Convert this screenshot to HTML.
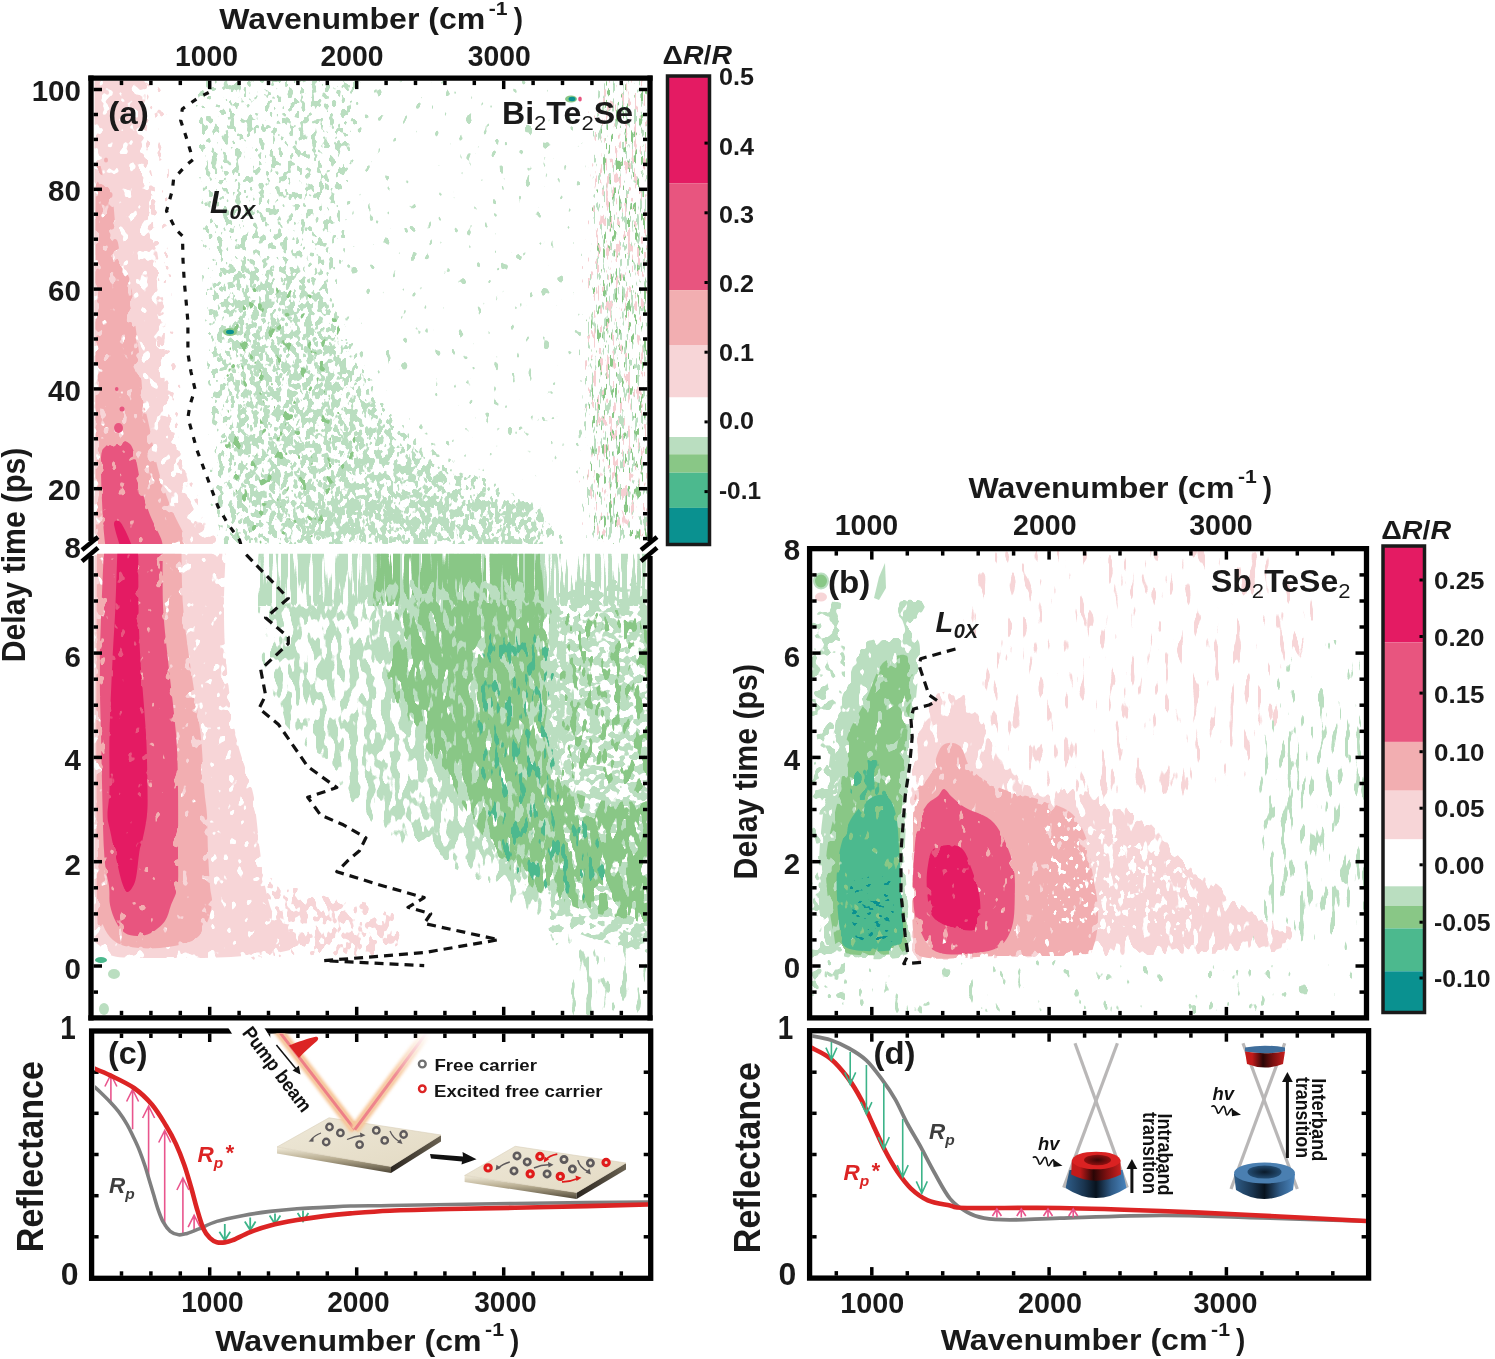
<!DOCTYPE html><html><head><meta charset="utf-8"><style>html,body{margin:0;padding:0;background:#fff;overflow:hidden;}svg{display:block;will-change:transform;filter:blur(0.4px);}text{font-family:"Liberation Sans", sans-serif;}</style></head><body>
<svg width="1495" height="1359" viewBox="0 0 1495 1359">
<rect width="100%" height="100%" fill="#fff"/>
<defs><filter id="rf1" filterUnits="userSpaceOnUse" x="304" y="44" width="312" height="462" color-interpolation-filters="sRGB"><feGaussianBlur in="SourceAlpha" stdDeviation="8" result="b"/><feTurbulence type="fractalNoise" baseFrequency="0.12 0.08" numOctaves="2" seed="11" result="n"/><feColorMatrix in="n" type="matrix" values="0 0 0 0 0 0 0 0 0 0 0 0 0 0 0 1 0 0 0 0" result="na"/><feComposite in="b" in2="na" operator="arithmetic" k1="0" k2="0.2" k3="1" k4="-0.2" result="s"/><feComponentTransfer in="s" result="mk"><feFuncA type="linear" slope="25" intercept="-18.075"/></feComponentTransfer><feFlood flood-color="#BADEC0" result="c"/><feComposite in="c" in2="mk" operator="in" result="cm"/><feComposite in="cm" in2="SourceAlpha" operator="in"/></filter><filter id="rf2" filterUnits="userSpaceOnUse" x="174" y="50" width="416" height="520" color-interpolation-filters="sRGB"><feGaussianBlur in="SourceAlpha" stdDeviation="6" result="b"/><feTurbulence type="fractalNoise" baseFrequency="0.17 0.12" numOctaves="2" seed="3" result="n"/><feColorMatrix in="n" type="matrix" values="0 0 0 0 0 0 0 0 0 0 0 0 0 0 0 1 0 0 0 0" result="na"/><feComposite in="b" in2="na" operator="arithmetic" k1="0" k2="0.35" k3="1" k4="-0.35" result="s"/><feComponentTransfer in="s" result="mk"><feFuncA type="linear" slope="25" intercept="-14.216"/></feComponentTransfer><feFlood flood-color="#BADEC0" result="c"/><feComposite in="c" in2="mk" operator="in" result="cm"/><feComposite in="cm" in2="SourceAlpha" operator="in"/></filter><filter id="rf3" filterUnits="userSpaceOnUse" x="168" y="218" width="446" height="376" color-interpolation-filters="sRGB"><feGaussianBlur in="SourceAlpha" stdDeviation="14" result="b"/><feTurbulence type="fractalNoise" baseFrequency="0.16 0.11" numOctaves="2" seed="5" result="n"/><feColorMatrix in="n" type="matrix" values="0 0 0 0 0 0 0 0 0 0 0 0 0 0 0 1 0 0 0 0" result="na"/><feComposite in="b" in2="na" operator="arithmetic" k1="0" k2="0.5" k3="1" k4="-0.5" result="s"/><feComponentTransfer in="s" result="mk"><feFuncA type="linear" slope="25" intercept="-12.936"/></feComponentTransfer><feFlood flood-color="#BADEC0" result="c"/><feComposite in="c" in2="mk" operator="in" result="cm"/><feComposite in="cm" in2="SourceAlpha" operator="in"/></filter><filter id="rf4" filterUnits="userSpaceOnUse" x="205" y="280" width="175" height="290" color-interpolation-filters="sRGB"><feGaussianBlur in="SourceAlpha" stdDeviation="6" result="b"/><feTurbulence type="fractalNoise" baseFrequency="0.12 0.08" numOctaves="2" seed="7" result="n"/><feColorMatrix in="n" type="matrix" values="0 0 0 0 0 0 0 0 0 0 0 0 0 0 0 1 0 0 0 0" result="na"/><feComposite in="b" in2="na" operator="arithmetic" k1="0" k2="0.3" k3="1" k4="-0.3" result="s"/><feComponentTransfer in="s" result="mk"><feFuncA type="linear" slope="25" intercept="-16.759"/></feComponentTransfer><feFlood flood-color="#89C786" result="c"/><feComposite in="c" in2="mk" operator="in" result="cm"/><feComposite in="cm" in2="SourceAlpha" operator="in"/></filter><filter id="rf5" filterUnits="userSpaceOnUse" x="280" y="470" width="300" height="100" color-interpolation-filters="sRGB"><feGaussianBlur in="SourceAlpha" stdDeviation="6" result="b"/><feTurbulence type="fractalNoise" baseFrequency="0.16 0.08" numOctaves="2" seed="8" result="n"/><feColorMatrix in="n" type="matrix" values="0 0 0 0 0 0 0 0 0 0 0 0 0 0 0 1 0 0 0 0" result="na"/><feComposite in="b" in2="na" operator="arithmetic" k1="0" k2="0.3" k3="1" k4="-0.3" result="s"/><feComponentTransfer in="s" result="mk"><feFuncA type="linear" slope="25" intercept="-13.154"/></feComponentTransfer><feFlood flood-color="#BADEC0" result="c"/><feComposite in="c" in2="mk" operator="in" result="cm"/><feComposite in="cm" in2="SourceAlpha" operator="in"/></filter><filter id="rf6" filterUnits="userSpaceOnUse" x="542" y="38" width="170" height="544" color-interpolation-filters="sRGB"><feGaussianBlur in="SourceAlpha" stdDeviation="10" result="b"/><feTurbulence type="fractalNoise" baseFrequency="0.32 0.07" numOctaves="2" seed="12" result="n"/><feColorMatrix in="n" type="matrix" values="0 0 0 0 0 0 0 0 0 0 0 0 0 0 0 1 0 0 0 0" result="na"/><feComposite in="b" in2="na" operator="arithmetic" k1="0" k2="0.5" k3="1" k4="-0.5" result="s"/><feComponentTransfer in="s" result="mk"><feFuncA type="linear" slope="25" intercept="-15.101"/></feComponentTransfer><feFlood flood-color="#BADEC0" result="c"/><feComposite in="c" in2="mk" operator="in" result="cm"/><feComposite in="cm" in2="SourceAlpha" operator="in"/></filter><filter id="rf7" filterUnits="userSpaceOnUse" x="548" y="38" width="164" height="544" color-interpolation-filters="sRGB"><feGaussianBlur in="SourceAlpha" stdDeviation="10" result="b"/><feTurbulence type="fractalNoise" baseFrequency="0.32 0.07" numOctaves="2" seed="13" result="n"/><feColorMatrix in="n" type="matrix" values="0 0 0 0 0 0 0 0 0 0 0 0 0 0 0 1 0 0 0 0" result="na"/><feComposite in="b" in2="na" operator="arithmetic" k1="0" k2="0.5" k3="1" k4="-0.5" result="s"/><feComponentTransfer in="s" result="mk"><feFuncA type="linear" slope="25" intercept="-15.608"/></feComponentTransfer><feFlood flood-color="#89C786" result="c"/><feComposite in="c" in2="mk" operator="in" result="cm"/><feComposite in="cm" in2="SourceAlpha" operator="in"/></filter><filter id="rf8" filterUnits="userSpaceOnUse" x="544" y="38" width="168" height="544" color-interpolation-filters="sRGB"><feGaussianBlur in="SourceAlpha" stdDeviation="10" result="b"/><feTurbulence type="fractalNoise" baseFrequency="0.32 0.07" numOctaves="2" seed="14" result="n"/><feColorMatrix in="n" type="matrix" values="0 0 0 0 0 0 0 0 0 0 0 0 0 0 0 1 0 0 0 0" result="na"/><feComposite in="b" in2="na" operator="arithmetic" k1="0" k2="0.5" k3="1" k4="-0.5" result="s"/><feComponentTransfer in="s" result="mk"><feFuncA type="linear" slope="25" intercept="-15.608"/></feComponentTransfer><feFlood flood-color="#F6CFD2" result="c"/><feComposite in="c" in2="mk" operator="in" result="cm"/><feComposite in="cm" in2="SourceAlpha" operator="in"/></filter><filter id="rf9" filterUnits="userSpaceOnUse" x="126" y="66" width="113" height="493" color-interpolation-filters="sRGB"><feGaussianBlur in="SourceAlpha" stdDeviation="4" result="b"/><feTurbulence type="fractalNoise" baseFrequency="0.14 0.1" numOctaves="2" seed="24" result="n"/><feColorMatrix in="n" type="matrix" values="0 0 0 0 0 0 0 0 0 0 0 0 0 0 0 1 0 0 0 0" result="na"/><feComposite in="b" in2="na" operator="arithmetic" k1="0" k2="0.2" k3="1" k4="-0.2" result="s"/><feComponentTransfer in="s" result="mk"><feFuncA type="linear" slope="25" intercept="-15.777"/></feComponentTransfer><feFlood flood-color="#F7D5D7" result="c"/><feComposite in="c" in2="mk" operator="in" result="cm"/><feComposite in="cm" in2="SourceAlpha" operator="in"/></filter><filter id="rf10" filterUnits="userSpaceOnUse" x="70" y="50" width="172" height="520" color-interpolation-filters="sRGB"><feGaussianBlur in="SourceAlpha" stdDeviation="6" result="b"/><feTurbulence type="fractalNoise" baseFrequency="0.1 0.08" numOctaves="2" seed="21" result="n"/><feColorMatrix in="n" type="matrix" values="0 0 0 0 0 0 0 0 0 0 0 0 0 0 0 1 0 0 0 0" result="na"/><feComposite in="b" in2="na" operator="arithmetic" k1="0" k2="0.6" k3="1" k4="-0.6" result="s"/><feComponentTransfer in="s" result="mk"><feFuncA type="linear" slope="25" intercept="-8.378"/></feComponentTransfer><feFlood flood-color="#F7D5D7" result="c"/><feComposite in="c" in2="mk" operator="in" result="cm"/><feComposite in="cm" in2="SourceAlpha" operator="in"/></filter><filter id="rf11" filterUnits="userSpaceOnUse" x="82" y="166" width="122" height="398" color-interpolation-filters="sRGB"><feGaussianBlur in="SourceAlpha" stdDeviation="4" result="b"/><feTurbulence type="fractalNoise" baseFrequency="0.11 0.08" numOctaves="2" seed="22" result="n"/><feColorMatrix in="n" type="matrix" values="0 0 0 0 0 0 0 0 0 0 0 0 0 0 0 1 0 0 0 0" result="na"/><feComposite in="b" in2="na" operator="arithmetic" k1="0" k2="0.5" k3="1" k4="-0.5" result="s"/><feComponentTransfer in="s" result="mk"><feFuncA type="linear" slope="25" intercept="-7.534"/></feComponentTransfer><feFlood flood-color="#F2AEB1" result="c"/><feComposite in="c" in2="mk" operator="in" result="cm"/><feComposite in="cm" in2="SourceAlpha" operator="in"/></filter><filter id="rf12" filterUnits="userSpaceOnUse" x="90" y="429" width="84" height="132" color-interpolation-filters="sRGB"><feGaussianBlur in="SourceAlpha" stdDeviation="3" result="b"/><feTurbulence type="fractalNoise" baseFrequency="0.11 0.08" numOctaves="2" seed="23" result="n"/><feColorMatrix in="n" type="matrix" values="0 0 0 0 0 0 0 0 0 0 0 0 0 0 0 1 0 0 0 0" result="na"/><feComposite in="b" in2="na" operator="arithmetic" k1="0" k2="0.4" k3="1" k4="-0.4" result="s"/><feComponentTransfer in="s" result="mk"><feFuncA type="linear" slope="25" intercept="-6.739"/></feComponentTransfer><feFlood flood-color="#E8557F" result="c"/><feComposite in="c" in2="mk" operator="in" result="cm"/><feComposite in="cm" in2="SourceAlpha" operator="in"/></filter><filter id="rf13" filterUnits="userSpaceOnUse" x="250" y="540" width="408" height="74" color-interpolation-filters="sRGB"><feGaussianBlur in="SourceAlpha" stdDeviation="2" result="b"/><feTurbulence type="fractalNoise" baseFrequency="0.22 0.012" numOctaves="2" seed="31" result="n"/><feColorMatrix in="n" type="matrix" values="0 0 0 0 0 0 0 0 0 0 0 0 0 0 0 1 0 0 0 0" result="na"/><feComposite in="b" in2="na" operator="arithmetic" k1="0" k2="0.2" k3="1" k4="-0.2" result="s"/><feComponentTransfer in="s" result="mk"><feFuncA type="linear" slope="25" intercept="-11.117"/></feComponentTransfer><feFlood flood-color="#BADEC0" result="c"/><feComposite in="c" in2="mk" operator="in" result="cm"/><feComposite in="cm" in2="SourceAlpha" operator="in"/></filter><filter id="rf14" filterUnits="userSpaceOnUse" x="361" y="537" width="195" height="80" color-interpolation-filters="sRGB"><feGaussianBlur in="SourceAlpha" stdDeviation="3" result="b"/><feTurbulence type="fractalNoise" baseFrequency="0.22 0.012" numOctaves="2" seed="32" result="n"/><feColorMatrix in="n" type="matrix" values="0 0 0 0 0 0 0 0 0 0 0 0 0 0 0 1 0 0 0 0" result="na"/><feComposite in="b" in2="na" operator="arithmetic" k1="0" k2="0.3" k3="1" k4="-0.3" result="s"/><feComponentTransfer in="s" result="mk"><feFuncA type="linear" slope="25" intercept="-9.397"/></feComponentTransfer><feFlood flood-color="#89C786" result="c"/><feComposite in="c" in2="mk" operator="in" result="cm"/><feComposite in="cm" in2="SourceAlpha" operator="in"/></filter><filter id="rf15" filterUnits="userSpaceOnUse" x="231" y="574" width="355" height="371" color-interpolation-filters="sRGB"><feGaussianBlur in="SourceAlpha" stdDeviation="8" result="b"/><feTurbulence type="fractalNoise" baseFrequency="0.12 0.05" numOctaves="2" seed="33" result="n"/><feColorMatrix in="n" type="matrix" values="0 0 0 0 0 0 0 0 0 0 0 0 0 0 0 1 0 0 0 0" result="na"/><feComposite in="b" in2="na" operator="arithmetic" k1="0" k2="0.35" k3="1" k4="-0.35" result="s"/><feComponentTransfer in="s" result="mk"><feFuncA type="linear" slope="25" intercept="-12.045"/></feComponentTransfer><feFlood flood-color="#BADEC0" result="c"/><feComposite in="c" in2="mk" operator="in" result="cm"/><feComposite in="cm" in2="SourceAlpha" operator="in"/></filter><filter id="rf16" filterUnits="userSpaceOnUse" x="528" y="580" width="172" height="405" color-interpolation-filters="sRGB"><feGaussianBlur in="SourceAlpha" stdDeviation="6" result="b"/><feTurbulence type="fractalNoise" baseFrequency="0.1 0.12" numOctaves="2" seed="34" result="n"/><feColorMatrix in="n" type="matrix" values="0 0 0 0 0 0 0 0 0 0 0 0 0 0 0 1 0 0 0 0" result="na"/><feComposite in="b" in2="na" operator="arithmetic" k1="0" k2="0.3" k3="1" k4="-0.3" result="s"/><feComponentTransfer in="s" result="mk"><feFuncA type="linear" slope="25" intercept="-11.667"/></feComponentTransfer><feFlood flood-color="#BADEC0" result="c"/><feComposite in="c" in2="mk" operator="in" result="cm"/><feComposite in="cm" in2="SourceAlpha" operator="in"/></filter><filter id="rf17" filterUnits="userSpaceOnUse" x="354" y="578" width="232" height="318" color-interpolation-filters="sRGB"><feGaussianBlur in="SourceAlpha" stdDeviation="8" result="b"/><feTurbulence type="fractalNoise" baseFrequency="0.12 0.05" numOctaves="2" seed="39" result="n"/><feColorMatrix in="n" type="matrix" values="0 0 0 0 0 0 0 0 0 0 0 0 0 0 0 1 0 0 0 0" result="na"/><feComposite in="b" in2="na" operator="arithmetic" k1="0" k2="0.3" k3="1" k4="-0.3" result="s"/><feComponentTransfer in="s" result="mk"><feFuncA type="linear" slope="25" intercept="-10.408"/></feComponentTransfer><feFlood flood-color="#BADEC0" result="c"/><feComposite in="c" in2="mk" operator="in" result="cm"/><feComposite in="cm" in2="SourceAlpha" operator="in"/></filter><filter id="rf18" filterUnits="userSpaceOnUse" x="359" y="578" width="347" height="378" color-interpolation-filters="sRGB"><feGaussianBlur in="SourceAlpha" stdDeviation="8" result="b"/><feTurbulence type="fractalNoise" baseFrequency="0.14 0.05" numOctaves="2" seed="35" result="n"/><feColorMatrix in="n" type="matrix" values="0 0 0 0 0 0 0 0 0 0 0 0 0 0 0 1 0 0 0 0" result="na"/><feComposite in="b" in2="na" operator="arithmetic" k1="0" k2="0.35" k3="1" k4="-0.35" result="s"/><feComponentTransfer in="s" result="mk"><feFuncA type="linear" slope="25" intercept="-9.955"/></feComponentTransfer><feFlood flood-color="#89C786" result="c"/><feComposite in="c" in2="mk" operator="in" result="cm"/><feComposite in="cm" in2="SourceAlpha" operator="in"/></filter><filter id="rf19" filterUnits="userSpaceOnUse" x="540" y="590" width="160" height="230" color-interpolation-filters="sRGB"><feGaussianBlur in="SourceAlpha" stdDeviation="6" result="b"/><feTurbulence type="fractalNoise" baseFrequency="0.14 0.06" numOctaves="2" seed="36" result="n"/><feColorMatrix in="n" type="matrix" values="0 0 0 0 0 0 0 0 0 0 0 0 0 0 0 1 0 0 0 0" result="na"/><feComposite in="b" in2="na" operator="arithmetic" k1="0" k2="0.3" k3="1" k4="-0.3" result="s"/><feComponentTransfer in="s" result="mk"><feFuncA type="linear" slope="25" intercept="-13.971"/></feComponentTransfer><feFlood flood-color="#89C786" result="c"/><feComposite in="c" in2="mk" operator="in" result="cm"/><feComposite in="cm" in2="SourceAlpha" operator="in"/></filter><filter id="rf20" filterUnits="userSpaceOnUse" x="460" y="620" width="160" height="300" color-interpolation-filters="sRGB"><feGaussianBlur in="SourceAlpha" stdDeviation="6" result="b"/><feTurbulence type="fractalNoise" baseFrequency="0.16 0.05" numOctaves="2" seed="37" result="n"/><feColorMatrix in="n" type="matrix" values="0 0 0 0 0 0 0 0 0 0 0 0 0 0 0 1 0 0 0 0" result="na"/><feComposite in="b" in2="na" operator="arithmetic" k1="0" k2="0.3" k3="1" k4="-0.3" result="s"/><feComponentTransfer in="s" result="mk"><feFuncA type="linear" slope="25" intercept="-14.828"/></feComponentTransfer><feFlood flood-color="#4CB98E" result="c"/><feComposite in="c" in2="mk" operator="in" result="cm"/><feComposite in="cm" in2="SourceAlpha" operator="in"/></filter><filter id="rf21" filterUnits="userSpaceOnUse" x="540" y="910" width="130" height="125" color-interpolation-filters="sRGB"><feGaussianBlur in="SourceAlpha" stdDeviation="6" result="b"/><feTurbulence type="fractalNoise" baseFrequency="0.14 0.04" numOctaves="2" seed="38" result="n"/><feColorMatrix in="n" type="matrix" values="0 0 0 0 0 0 0 0 0 0 0 0 0 0 0 1 0 0 0 0" result="na"/><feComposite in="b" in2="na" operator="arithmetic" k1="0" k2="0.3" k3="1" k4="-0.3" result="s"/><feComponentTransfer in="s" result="mk"><feFuncA type="linear" slope="25" intercept="-15.270"/></feComponentTransfer><feFlood flood-color="#BADEC0" result="c"/><feComposite in="c" in2="mk" operator="in" result="cm"/><feComposite in="cm" in2="SourceAlpha" operator="in"/></filter><filter id="rf22" filterUnits="userSpaceOnUse" x="233" y="863" width="179" height="110" color-interpolation-filters="sRGB"><feGaussianBlur in="SourceAlpha" stdDeviation="5" result="b"/><feTurbulence type="fractalNoise" baseFrequency="0.13 0.09" numOctaves="2" seed="41" result="n"/><feColorMatrix in="n" type="matrix" values="0 0 0 0 0 0 0 0 0 0 0 0 0 0 0 1 0 0 0 0" result="na"/><feComposite in="b" in2="na" operator="arithmetic" k1="0" k2="0.3" k3="1" k4="-0.3" result="s"/><feComponentTransfer in="s" result="mk"><feFuncA type="linear" slope="25" intercept="-12.424"/></feComponentTransfer><feFlood flood-color="#F7D5D7" result="c"/><feComposite in="c" in2="mk" operator="in" result="cm"/><feComposite in="cm" in2="SourceAlpha" operator="in"/></filter><filter id="rf23" filterUnits="userSpaceOnUse" x="76" y="534" width="238" height="438" color-interpolation-filters="sRGB"><feGaussianBlur in="SourceAlpha" stdDeviation="4" result="b"/><feTurbulence type="fractalNoise" baseFrequency="0.11 0.08" numOctaves="2" seed="42" result="n"/><feColorMatrix in="n" type="matrix" values="0 0 0 0 0 0 0 0 0 0 0 0 0 0 0 1 0 0 0 0" result="na"/><feComposite in="b" in2="na" operator="arithmetic" k1="0" k2="0.4" k3="1" k4="-0.4" result="s"/><feComponentTransfer in="s" result="mk"><feFuncA type="linear" slope="25" intercept="-7.283"/></feComponentTransfer><feFlood flood-color="#F7D5D7" result="c"/><feComposite in="c" in2="mk" operator="in" result="cm"/><feComposite in="cm" in2="SourceAlpha" operator="in"/></filter><filter id="rf24" filterUnits="userSpaceOnUse" x="86" y="537" width="137" height="422" color-interpolation-filters="sRGB"><feGaussianBlur in="SourceAlpha" stdDeviation="3" result="b"/><feTurbulence type="fractalNoise" baseFrequency="0.11 0.08" numOctaves="2" seed="43" result="n"/><feColorMatrix in="n" type="matrix" values="0 0 0 0 0 0 0 0 0 0 0 0 0 0 0 1 0 0 0 0" result="na"/><feComposite in="b" in2="na" operator="arithmetic" k1="0" k2="0.35" k3="1" k4="-0.35" result="s"/><feComponentTransfer in="s" result="mk"><feFuncA type="linear" slope="25" intercept="-6.467"/></feComponentTransfer><feFlood flood-color="#F2AEB1" result="c"/><feComposite in="c" in2="mk" operator="in" result="cm"/><feComposite in="cm" in2="SourceAlpha" operator="in"/></filter><filter id="rf25" filterUnits="userSpaceOnUse" x="89" y="537" width="100" height="410" color-interpolation-filters="sRGB"><feGaussianBlur in="SourceAlpha" stdDeviation="3" result="b"/><feTurbulence type="fractalNoise" baseFrequency="0.11 0.08" numOctaves="2" seed="44" result="n"/><feColorMatrix in="n" type="matrix" values="0 0 0 0 0 0 0 0 0 0 0 0 0 0 0 1 0 0 0 0" result="na"/><feComposite in="b" in2="na" operator="arithmetic" k1="0" k2="0.3" k3="1" k4="-0.3" result="s"/><feComponentTransfer in="s" result="mk"><feFuncA type="linear" slope="25" intercept="-6.175"/></feComponentTransfer><feFlood flood-color="#E8557F" result="c"/><feComposite in="c" in2="mk" operator="in" result="cm"/><feComposite in="cm" in2="SourceAlpha" operator="in"/></filter><filter id="rf26" filterUnits="userSpaceOnUse" x="96" y="537" width="62" height="366" color-interpolation-filters="sRGB"><feGaussianBlur in="SourceAlpha" stdDeviation="3" result="b"/><feTurbulence type="fractalNoise" baseFrequency="0.11 0.08" numOctaves="2" seed="45" result="n"/><feColorMatrix in="n" type="matrix" values="0 0 0 0 0 0 0 0 0 0 0 0 0 0 0 1 0 0 0 0" result="na"/><feComposite in="b" in2="na" operator="arithmetic" k1="0" k2="0.3" k3="1" k4="-0.3" result="s"/><feComponentTransfer in="s" result="mk"><feFuncA type="linear" slope="25" intercept="-6.175"/></feComponentTransfer><feFlood flood-color="#E41B63" result="c"/><feComposite in="c" in2="mk" operator="in" result="cm"/><feComposite in="cm" in2="SourceAlpha" operator="in"/></filter><filter id="rf27" filterUnits="userSpaceOnUse" x="958" y="523" width="369" height="309" color-interpolation-filters="sRGB"><feGaussianBlur in="SourceAlpha" stdDeviation="10" result="b"/><feTurbulence type="fractalNoise" baseFrequency="0.14 0.03" numOctaves="2" seed="51" result="n"/><feColorMatrix in="n" type="matrix" values="0 0 0 0 0 0 0 0 0 0 0 0 0 0 0 1 0 0 0 0" result="na"/><feComposite in="b" in2="na" operator="arithmetic" k1="0" k2="0.2" k3="1" k4="-0.2" result="s"/><feComponentTransfer in="s" result="mk"><feFuncA type="linear" slope="25" intercept="-16.115"/></feComponentTransfer><feFlood flood-color="#F7D5D7" result="c"/><feComposite in="c" in2="mk" operator="in" result="cm"/><feComposite in="cm" in2="SourceAlpha" operator="in"/></filter><filter id="rf28" filterUnits="userSpaceOnUse" x="1212" y="652" width="216" height="336" color-interpolation-filters="sRGB"><feGaussianBlur in="SourceAlpha" stdDeviation="12" result="b"/><feTurbulence type="fractalNoise" baseFrequency="0.16 0.035" numOctaves="2" seed="52" result="n"/><feColorMatrix in="n" type="matrix" values="0 0 0 0 0 0 0 0 0 0 0 0 0 0 0 1 0 0 0 0" result="na"/><feComposite in="b" in2="na" operator="arithmetic" k1="0" k2="0.3" k3="1" k4="-0.3" result="s"/><feComponentTransfer in="s" result="mk"><feFuncA type="linear" slope="25" intercept="-14.951"/></feComponentTransfer><feFlood flood-color="#BADEC0" result="c"/><feComposite in="c" in2="mk" operator="in" result="cm"/><feComposite in="cm" in2="SourceAlpha" operator="in"/></filter><filter id="rf29" filterUnits="userSpaceOnUse" x="1233" y="608" width="189" height="184" color-interpolation-filters="sRGB"><feGaussianBlur in="SourceAlpha" stdDeviation="10" result="b"/><feTurbulence type="fractalNoise" baseFrequency="0.16 0.035" numOctaves="2" seed="65" result="n"/><feColorMatrix in="n" type="matrix" values="0 0 0 0 0 0 0 0 0 0 0 0 0 0 0 1 0 0 0 0" result="na"/><feComposite in="b" in2="na" operator="arithmetic" k1="0" k2="0.2" k3="1" k4="-0.2" result="s"/><feComponentTransfer in="s" result="mk"><feFuncA type="linear" slope="25" intercept="-16.759"/></feComponentTransfer><feFlood flood-color="#BADEC0" result="c"/><feComposite in="c" in2="mk" operator="in" result="cm"/><feComposite in="cm" in2="SourceAlpha" operator="in"/></filter><filter id="rf30" filterUnits="userSpaceOnUse" x="798" y="586" width="61" height="428" color-interpolation-filters="sRGB"><feGaussianBlur in="SourceAlpha" stdDeviation="4" result="b"/><feTurbulence type="fractalNoise" baseFrequency="0.1 0.09" numOctaves="2" seed="53" result="n"/><feColorMatrix in="n" type="matrix" values="0 0 0 0 0 0 0 0 0 0 0 0 0 0 0 1 0 0 0 0" result="na"/><feComposite in="b" in2="na" operator="arithmetic" k1="0" k2="0.2" k3="1" k4="-0.2" result="s"/><feComponentTransfer in="s" result="mk"><feFuncA type="linear" slope="25" intercept="-13.517"/></feComponentTransfer><feFlood flood-color="#BADEC0" result="c"/><feComposite in="c" in2="mk" operator="in" result="cm"/><feComposite in="cm" in2="SourceAlpha" operator="in"/></filter><filter id="rf31" filterUnits="userSpaceOnUse" x="798" y="946" width="580" height="83" color-interpolation-filters="sRGB"><feGaussianBlur in="SourceAlpha" stdDeviation="4" result="b"/><feTurbulence type="fractalNoise" baseFrequency="0.12 0.06" numOctaves="2" seed="54" result="n"/><feColorMatrix in="n" type="matrix" values="0 0 0 0 0 0 0 0 0 0 0 0 0 0 0 1 0 0 0 0" result="na"/><feComposite in="b" in2="na" operator="arithmetic" k1="0" k2="0.2" k3="1" k4="-0.2" result="s"/><feComponentTransfer in="s" result="mk"><feFuncA type="linear" slope="25" intercept="-17.454"/></feComponentTransfer><feFlood flood-color="#BADEC0" result="c"/><feComposite in="c" in2="mk" operator="in" result="cm"/><feComposite in="cm" in2="SourceAlpha" operator="in"/></filter><filter id="rf32" filterUnits="userSpaceOnUse" x="885" y="674" width="440" height="309" color-interpolation-filters="sRGB"><feGaussianBlur in="SourceAlpha" stdDeviation="7" result="b"/><feTurbulence type="fractalNoise" baseFrequency="0.12 0.05" numOctaves="2" seed="55" result="n"/><feColorMatrix in="n" type="matrix" values="0 0 0 0 0 0 0 0 0 0 0 0 0 0 0 1 0 0 0 0" result="na"/><feComposite in="b" in2="na" operator="arithmetic" k1="0" k2="0.6" k3="1" k4="-0.6" result="s"/><feComponentTransfer in="s" result="mk"><feFuncA type="linear" slope="25" intercept="-8.378"/></feComponentTransfer><feFlood flood-color="#F7D5D7" result="c"/><feComposite in="c" in2="mk" operator="in" result="cm"/><feComposite in="cm" in2="SourceAlpha" operator="in"/></filter><filter id="rf33" filterUnits="userSpaceOnUse" x="899" y="732" width="213" height="239" color-interpolation-filters="sRGB"><feGaussianBlur in="SourceAlpha" stdDeviation="4" result="b"/><feTurbulence type="fractalNoise" baseFrequency="0.13 0.08" numOctaves="2" seed="56" result="n"/><feColorMatrix in="n" type="matrix" values="0 0 0 0 0 0 0 0 0 0 0 0 0 0 0 1 0 0 0 0" result="na"/><feComposite in="b" in2="na" operator="arithmetic" k1="0" k2="0.35" k3="1" k4="-0.35" result="s"/><feComponentTransfer in="s" result="mk"><feFuncA type="linear" slope="25" intercept="-7.011"/></feComponentTransfer><feFlood flood-color="#F2AEB1" result="c"/><feComposite in="c" in2="mk" operator="in" result="cm"/><feComposite in="cm" in2="SourceAlpha" operator="in"/></filter><filter id="rf34" filterUnits="userSpaceOnUse" x="902" y="778" width="124" height="186" color-interpolation-filters="sRGB"><feGaussianBlur in="SourceAlpha" stdDeviation="3" result="b"/><feTurbulence type="fractalNoise" baseFrequency="0.12 0.08" numOctaves="2" seed="57" result="n"/><feColorMatrix in="n" type="matrix" values="0 0 0 0 0 0 0 0 0 0 0 0 0 0 0 1 0 0 0 0" result="na"/><feComposite in="b" in2="na" operator="arithmetic" k1="0" k2="0.3" k3="1" k4="-0.3" result="s"/><feComponentTransfer in="s" result="mk"><feFuncA type="linear" slope="25" intercept="-6.467"/></feComponentTransfer><feFlood flood-color="#E8557F" result="c"/><feComposite in="c" in2="mk" operator="in" result="cm"/><feComposite in="cm" in2="SourceAlpha" operator="in"/></filter><filter id="rf35" filterUnits="userSpaceOnUse" x="1014" y="774" width="222" height="192" color-interpolation-filters="sRGB"><feGaussianBlur in="SourceAlpha" stdDeviation="8" result="b"/><feTurbulence type="fractalNoise" baseFrequency="0.16 0.12" numOctaves="2" seed="64" result="n"/><feColorMatrix in="n" type="matrix" values="0 0 0 0 0 0 0 0 0 0 0 0 0 0 0 1 0 0 0 0" result="na"/><feComposite in="b" in2="na" operator="arithmetic" k1="0" k2="0.3" k3="1" k4="-0.3" result="s"/><feComponentTransfer in="s" result="mk"><feFuncA type="linear" slope="25" intercept="-15.608"/></feComponentTransfer><feFlood flood-color="#ffffff" result="c"/><feComposite in="c" in2="mk" operator="in" result="cm"/><feComposite in="cm" in2="SourceAlpha" operator="in"/></filter><filter id="rf36" filterUnits="userSpaceOnUse" x="916" y="836" width="75" height="103" color-interpolation-filters="sRGB"><feGaussianBlur in="SourceAlpha" stdDeviation="3" result="b"/><feTurbulence type="fractalNoise" baseFrequency="0.12 0.08" numOctaves="2" seed="58" result="n"/><feColorMatrix in="n" type="matrix" values="0 0 0 0 0 0 0 0 0 0 0 0 0 0 0 1 0 0 0 0" result="na"/><feComposite in="b" in2="na" operator="arithmetic" k1="0" k2="0.3" k3="1" k4="-0.3" result="s"/><feComponentTransfer in="s" result="mk"><feFuncA type="linear" slope="25" intercept="-7.011"/></feComponentTransfer><feFlood flood-color="#E41B63" result="c"/><feComposite in="c" in2="mk" operator="in" result="cm"/><feComposite in="cm" in2="SourceAlpha" operator="in"/></filter><filter id="rf37" filterUnits="userSpaceOnUse" x="808" y="590" width="127" height="377" color-interpolation-filters="sRGB"><feGaussianBlur in="SourceAlpha" stdDeviation="3" result="b"/><feTurbulence type="fractalNoise" baseFrequency="0.12 0.07" numOctaves="2" seed="59" result="n"/><feColorMatrix in="n" type="matrix" values="0 0 0 0 0 0 0 0 0 0 0 0 0 0 0 1 0 0 0 0" result="na"/><feComposite in="b" in2="na" operator="arithmetic" k1="0" k2="0.4" k3="1" k4="-0.4" result="s"/><feComponentTransfer in="s" result="mk"><feFuncA type="linear" slope="25" intercept="-8.041"/></feComponentTransfer><feFlood flood-color="#BADEC0" result="c"/><feComposite in="c" in2="mk" operator="in" result="cm"/><feComposite in="cm" in2="SourceAlpha" operator="in"/></filter><filter id="rf38" filterUnits="userSpaceOnUse" x="812" y="648" width="114" height="319" color-interpolation-filters="sRGB"><feGaussianBlur in="SourceAlpha" stdDeviation="4" result="b"/><feTurbulence type="fractalNoise" baseFrequency="0.12 0.07" numOctaves="2" seed="60" result="n"/><feColorMatrix in="n" type="matrix" values="0 0 0 0 0 0 0 0 0 0 0 0 0 0 0 1 0 0 0 0" result="na"/><feComposite in="b" in2="na" operator="arithmetic" k1="0" k2="0.35" k3="1" k4="-0.35" result="s"/><feComponentTransfer in="s" result="mk"><feFuncA type="linear" slope="25" intercept="-8.041"/></feComponentTransfer><feFlood flood-color="#89C786" result="c"/><feComposite in="c" in2="mk" operator="in" result="cm"/><feComposite in="cm" in2="SourceAlpha" operator="in"/></filter><filter id="rf39" filterUnits="userSpaceOnUse" x="826" y="785" width="88" height="175" color-interpolation-filters="sRGB"><feGaussianBlur in="SourceAlpha" stdDeviation="3" result="b"/><feTurbulence type="fractalNoise" baseFrequency="0.12 0.07" numOctaves="2" seed="61" result="n"/><feColorMatrix in="n" type="matrix" values="0 0 0 0 0 0 0 0 0 0 0 0 0 0 0 1 0 0 0 0" result="na"/><feComposite in="b" in2="na" operator="arithmetic" k1="0" k2="0.3" k3="1" k4="-0.3" result="s"/><feComponentTransfer in="s" result="mk"><feFuncA type="linear" slope="25" intercept="-7.011"/></feComponentTransfer><feFlood flood-color="#4CB98E" result="c"/><feComposite in="c" in2="mk" operator="in" result="cm"/><feComposite in="cm" in2="SourceAlpha" operator="in"/></filter><filter id="rf40" filterUnits="userSpaceOnUse" x="839" y="749" width="62" height="62" color-interpolation-filters="sRGB"><feGaussianBlur in="SourceAlpha" stdDeviation="3" result="b"/><feTurbulence type="fractalNoise" baseFrequency="0.12 0.07" numOctaves="2" seed="63" result="n"/><feColorMatrix in="n" type="matrix" values="0 0 0 0 0 0 0 0 0 0 0 0 0 0 0 1 0 0 0 0" result="na"/><feComposite in="b" in2="na" operator="arithmetic" k1="0" k2="0.3" k3="1" k4="-0.3" result="s"/><feComponentTransfer in="s" result="mk"><feFuncA type="linear" slope="25" intercept="-12.045"/></feComponentTransfer><feFlood flood-color="#4CB98E" result="c"/><feComposite in="c" in2="mk" operator="in" result="cm"/><feComposite in="cm" in2="SourceAlpha" operator="in"/></filter><filter id="rf41" filterUnits="userSpaceOnUse" x="839" y="864" width="67" height="92" color-interpolation-filters="sRGB"><feGaussianBlur in="SourceAlpha" stdDeviation="3" result="b"/><feTurbulence type="fractalNoise" baseFrequency="0.12 0.2" numOctaves="2" seed="62" result="n"/><feColorMatrix in="n" type="matrix" values="0 0 0 0 0 0 0 0 0 0 0 0 0 0 0 1 0 0 0 0" result="na"/><feComposite in="b" in2="na" operator="arithmetic" k1="0" k2="0.2" k3="1" k4="-0.2" result="s"/><feComponentTransfer in="s" result="mk"><feFuncA type="linear" slope="25" intercept="-15.608"/></feComponentTransfer><feFlood flood-color="#0A9190" result="c"/><feComposite in="c" in2="mk" operator="in" result="cm"/><feComposite in="cm" in2="SourceAlpha" operator="in"/></filter></defs>
<defs><clipPath id="cau"><rect x="94.5" y="80.5" width="552.5" height="463.5"/></clipPath><clipPath id="cal"><rect x="94.5" y="553.5" width="552.5" height="461.5"/></clipPath><clipPath id="cb"><rect x="812" y="551" width="552" height="464"/></clipPath></defs>
<g clip-path="url(#cau)">
<path d="M330.0,70.0 L590.0,70.0 L590.0,480.0 L330.0,480.0Z" fill="#000" filter="url(#rf1)"/>
<path d="M196.0,70.0 C196.0,70.0 364.0,70.0 364.0,70.0 C364.0,70.0 359.2,120.0 356.0,150.0 C352.8,180.0 347.7,225.0 345.0,250.0 C342.3,275.0 337.2,281.5 340.0,300.0 C342.8,318.5 351.7,340.5 362.0,361.0 C372.3,381.5 388.2,407.5 402.0,423.0 C415.8,438.5 428.7,443.7 445.0,454.0 C461.3,464.3 482.8,474.8 500.0,485.0 C517.2,495.2 537.0,505.8 548.0,515.0 C559.0,524.2 562.3,534.2 566.0,540.0 C569.7,545.8 570.0,550.0 570.0,550.0 C570.0,550.0 212.0,550.0 212.0,550.0 C212.0,550.0 211.0,525.0 210.0,500.0 C209.0,475.0 207.2,433.3 206.0,400.0 C204.8,366.7 204.2,333.3 203.0,300.0 C201.8,266.7 200.5,230.0 199.0,200.0 C197.5,170.0 194.5,141.7 194.0,120.0 C193.5,98.3 196.0,70.0 196.0,70.0Z" fill="#000" filter="url(#rf2)"/>
<path d="M212.0,270.0 C221.0,238.7 250.3,259.5 270.0,262.0 C289.7,264.5 314.7,268.5 330.0,285.0 C345.3,301.5 350.0,338.0 362.0,361.0 C374.0,384.0 388.2,407.5 402.0,423.0 C415.8,438.5 428.7,443.7 445.0,454.0 C461.3,464.3 482.8,474.8 500.0,485.0 C517.2,495.2 537.0,505.8 548.0,515.0 C559.0,524.2 562.3,534.2 566.0,540.0 C569.7,545.8 570.0,550.0 570.0,550.0 C570.0,550.0 222.0,550.0 222.0,550.0 C222.0,550.0 217.7,496.7 216.0,450.0 C214.3,403.3 203.0,301.3 212.0,270.0Z" fill="#000" filter="url(#rf3)"/>
<path d="M225.0,300.0 C241.7,258.3 309.2,286.7 330.0,300.0 C350.8,313.3 345.0,355.0 350.0,380.0 C355.0,405.0 365.0,421.7 360.0,450.0 C355.0,478.3 320.0,550.0 320.0,550.0 C320.0,550.0 230.0,550.0 230.0,550.0 C230.0,550.0 208.3,341.7 225.0,300.0Z" fill="#000" filter="url(#rf4)"/>
<path d="M300.0,490.0 L540.0,500.0 L560.0,550.0 L300.0,550.0Z" fill="#000" filter="url(#rf5)"/>
<path d="M584.0,70.0 C584.0,70.0 680.0,70.0 680.0,70.0 C680.0,70.0 680.0,550.0 680.0,550.0 C680.0,550.0 576.0,550.0 576.0,550.0 C576.0,550.0 573.0,458.3 574.0,400.0 C575.0,341.7 580.3,255.0 582.0,200.0 C583.7,145.0 584.0,70.0 584.0,70.0Z" fill="#000" filter="url(#rf6)"/>
<path d="M590.0,70.0 C590.0,70.0 680.0,70.0 680.0,70.0 C680.0,70.0 680.0,550.0 680.0,550.0 C680.0,550.0 582.0,550.0 582.0,550.0 C582.0,550.0 579.0,458.3 580.0,400.0 C581.0,341.7 586.3,255.0 588.0,200.0 C589.7,145.0 590.0,70.0 590.0,70.0Z" fill="#000" filter="url(#rf7)"/>
<path d="M580.0,70.0 C580.0,70.0 680.0,70.0 680.0,70.0 C680.0,70.0 680.0,550.0 680.0,550.0 C680.0,550.0 578.0,550.0 578.0,550.0 C578.0,550.0 575.7,458.3 576.0,400.0 C576.3,341.7 579.3,255.0 580.0,200.0 C580.7,145.0 580.0,70.0 580.0,70.0Z" fill="#000" filter="url(#rf8)"/>
<path d="M140.0,80.0 C140.0,80.0 168.0,80.0 168.0,80.0 C168.0,80.0 169.2,243.3 172.0,300.0 C174.8,356.7 180.3,386.7 185.0,420.0 C189.7,453.3 193.3,479.2 200.0,500.0 C206.7,520.8 225.0,545.0 225.0,545.0 C225.0,545.0 180.0,545.0 180.0,545.0 C180.0,545.0 156.7,377.5 150.0,300.0 C143.3,222.5 140.0,80.0 140.0,80.0Z" fill="#000" filter="url(#rf9)"/>
<path d="M90.0,70.0 C90.0,70.0 146.0,70.0 146.0,70.0 C146.0,70.0 149.0,97.0 149.0,109.0 C149.0,121.0 145.5,131.0 146.0,142.0 C146.5,153.0 150.5,166.8 152.0,175.0 C153.5,183.2 154.8,182.8 155.0,191.0 C155.2,199.2 152.5,213.0 153.0,224.0 C153.5,235.0 156.5,246.0 158.0,257.0 C159.5,268.0 160.8,279.8 162.0,290.0 C163.2,300.2 164.5,307.2 165.0,318.0 C165.5,328.8 164.2,342.7 165.0,355.0 C165.8,367.3 168.3,379.7 170.0,392.0 C171.7,404.3 172.7,416.7 175.0,429.0 C177.3,441.3 180.7,453.8 184.0,466.0 C187.3,478.2 191.2,492.2 195.0,502.0 C198.8,511.8 203.3,518.8 207.0,525.0 C210.7,531.2 214.5,534.8 217.0,539.0 C219.5,543.2 222.0,550.0 222.0,550.0 C222.0,550.0 90.0,550.0 90.0,550.0 C90.0,550.0 90.0,70.0 90.0,70.0Z" fill="#000" filter="url(#rf10)"/>
<path d="M96.0,182.0 C97.3,120.3 101.3,177.8 104.0,180.0 C106.7,182.2 110.0,186.7 112.0,195.0 C114.0,203.3 114.3,218.8 116.0,230.0 C117.7,241.2 119.7,253.7 122.0,262.0 C124.3,270.3 128.2,273.7 130.0,280.0 C131.8,286.3 132.0,291.7 133.0,300.0 C134.0,308.3 134.8,320.0 136.0,330.0 C137.2,340.0 138.8,349.0 140.0,360.0 C141.2,371.0 141.3,384.3 143.0,396.0 C144.7,407.7 147.6,418.1 150.0,430.0 C152.4,441.9 154.3,455.0 157.6,467.5 C160.9,480.0 165.3,493.1 170.0,505.0 C174.7,516.9 182.7,531.1 186.0,538.6 C189.3,546.1 190.0,550.0 190.0,550.0 C190.0,550.0 96.0,550.0 96.0,550.0 C96.0,550.0 94.7,243.7 96.0,182.0Z" fill="#000" filter="url(#rf11)"/>
<path d="M101.0,460.0 C101.5,447.7 103.2,449.3 106.0,446.0 C108.8,442.7 114.0,440.3 118.0,440.0 C122.0,439.7 127.0,440.7 130.0,444.0 C133.0,447.3 134.0,452.3 136.0,460.0 C138.0,467.7 139.7,480.8 142.0,490.0 C144.3,499.2 146.8,506.9 150.0,515.0 C153.2,523.1 158.8,532.8 161.0,538.6 C163.2,544.4 163.0,550.0 163.0,550.0 C163.0,550.0 106.0,550.0 106.0,550.0 C106.0,550.0 103.8,535.0 103.0,520.0 C102.2,505.0 100.5,472.3 101.0,460.0Z" fill="#000" filter="url(#rf12)"/>
<ellipse cx="110" cy="195" rx="2.5" ry="3" fill="#F2AEB1"/><ellipse cx="115" cy="244" rx="3" ry="5" fill="#F2AEB1"/><ellipse cx="106" cy="160" rx="2" ry="2.5" fill="#F2AEB1"/>
<ellipse cx="116.7" cy="389" rx="1.8" ry="2" fill="#E8557F"/><ellipse cx="122" cy="409" rx="2.5" ry="2.5" fill="#E8557F"/><ellipse cx="118.5" cy="428" rx="4.5" ry="5" fill="#E8557F"/>
<path d="M114.0,524.0 C113.8,519.8 117.2,520.0 119.0,521.0 C120.8,522.0 122.8,525.8 125.0,530.0 C127.2,534.2 132.0,546.0 132.0,546.0 C132.0,546.0 120.0,546.0 120.0,546.0 C120.0,546.0 114.2,528.2 114.0,524.0Z" fill="#E41B63" />
<ellipse cx="230" cy="332" rx="7" ry="4" fill="#89C786"/><ellipse cx="230" cy="332" rx="4" ry="2.2" fill="#0A9190"/>
<ellipse cx="571" cy="99" rx="6" ry="3.5" fill="#89C786"/><ellipse cx="572" cy="99" rx="3.5" ry="2.2" fill="#0A9190"/><ellipse cx="580" cy="99" rx="1.8" ry="2.5" fill="#E8557F"/>
</g>
<g clip-path="url(#cal)">
<path d="M258.0,548.0 L650.0,548.0 L650.0,606.0 L258.0,606.0Z" fill="#000" filter="url(#rf13)"/>
<path d="M372.0,548.0 L540.0,548.0 L545.0,606.0 L372.0,606.0Z" fill="#000" filter="url(#rf14)"/>
<path d="M257.0,600.0 C306.7,596.7 509.5,550.0 560.0,600.0 C610.5,650.0 562.6,846.8 560.0,900.0 C557.4,953.2 551.4,917.6 544.3,919.0 C537.2,920.4 526.5,913.7 517.6,908.4 C508.7,903.1 504.2,895.0 490.8,887.0 C477.4,879.0 450.7,867.0 437.3,860.3 C423.9,853.6 419.4,851.5 410.5,847.0 C401.6,842.5 392.7,840.2 383.8,833.5 C374.9,826.8 364.3,814.0 357.0,806.8 C349.7,799.5 345.7,796.8 340.0,790.0 C334.3,783.2 329.7,774.3 323.0,766.0 C316.3,757.7 306.3,747.0 300.0,740.0 C293.7,733.0 290.0,730.7 285.0,724.0 C280.0,717.3 273.8,710.7 270.0,700.0 C266.2,689.3 263.3,673.3 262.0,660.0 C260.7,646.7 262.8,630.0 262.0,620.0 C261.2,610.0 207.3,603.3 257.0,600.0Z" fill="#000" filter="url(#rf15)"/>
<path d="M555.0,600.0 C577.0,546.7 680.0,600.0 680.0,600.0 C680.0,600.0 680.0,965.0 680.0,965.0 C680.0,965.0 616.0,946.4 597.8,940.5 C579.6,934.6 579.3,933.2 571.0,929.8 C562.7,926.4 550.7,975.0 548.0,920.0 C545.3,865.0 533.0,653.3 555.0,600.0Z" fill="#000" filter="url(#rf16)"/>
<path d="M380.0,604.0 C406.3,588.0 519.3,588.0 548.0,604.0 C576.7,620.0 550.0,667.3 552.0,700.0 C554.0,732.7 565.3,771.7 560.0,800.0 C554.7,828.3 535.0,866.7 520.0,870.0 C505.0,873.3 486.7,838.3 470.0,820.0 C453.3,801.7 433.3,780.0 420.0,760.0 C406.7,740.0 396.7,726.0 390.0,700.0 C383.3,674.0 353.7,620.0 380.0,604.0Z" fill="#000" filter="url(#rf17)"/>
<path d="M395.0,604.0 C418.3,599.7 519.2,596.3 545.0,604.0 C570.8,611.7 549.5,634.0 550.0,650.0 C550.5,666.0 548.8,685.0 548.0,700.0 C547.2,715.0 543.0,726.7 545.0,740.0 C547.0,753.3 550.8,770.0 560.0,780.0 C569.2,790.0 580.0,796.7 600.0,800.0 C620.0,803.3 680.0,800.0 680.0,800.0 C680.0,800.0 680.0,930.0 680.0,930.0 C680.0,930.0 616.0,917.8 597.8,913.8 C579.6,909.8 579.9,908.9 571.0,905.8 C562.1,902.7 553.2,899.5 544.3,895.0 C535.4,890.5 526.5,887.0 517.6,879.0 C508.7,871.0 499.7,859.0 490.8,847.0 C481.9,835.0 470.8,818.0 464.0,806.8 C457.2,795.6 457.3,791.1 450.0,780.0 C442.7,768.9 429.2,753.3 420.0,740.0 C410.8,726.7 400.8,713.3 395.0,700.0 C389.2,686.7 383.3,671.7 385.0,660.0 C386.7,648.3 403.3,639.3 405.0,630.0 C406.7,620.7 371.7,608.3 395.0,604.0Z" fill="#000" filter="url(#rf18)"/>
<path d="M560.0,610.0 L680.0,610.0 L680.0,800.0 L560.0,780.0Z" fill="#000" filter="url(#rf19)"/>
<path d="M480.0,640.0 C491.3,613.3 534.7,613.3 548.0,640.0 C561.3,666.7 551.3,768.3 560.0,800.0 C568.7,831.7 593.3,813.3 600.0,830.0 C606.7,846.7 613.3,891.7 600.0,900.0 C586.7,908.3 540.0,896.7 520.0,880.0 C500.0,863.3 486.7,840.0 480.0,800.0 C473.3,760.0 468.7,666.7 480.0,640.0Z" fill="#000" filter="url(#rf20)"/>
<path d="M560.0,930.0 L650.0,930.0 L650.0,1015.0 L570.0,1015.0Z" fill="#000" filter="url(#rf21)"/>
<path d="M250.0,880.0 C258.3,868.7 285.0,885.0 300.0,888.0 C315.0,891.0 324.2,894.0 340.0,898.0 C355.8,902.0 385.8,903.0 395.0,912.0 C404.2,921.0 410.8,944.7 395.0,952.0 C379.2,959.3 324.2,955.3 300.0,956.0 C275.8,956.7 258.3,968.7 250.0,956.0 C241.7,943.3 241.7,891.3 250.0,880.0Z" fill="#000" filter="url(#rf22)"/>
<path d="M90.0,548.0 C90.0,548.0 226.0,548.0 226.0,548.0 C226.0,548.0 224.0,586.3 224.0,605.0 C224.0,623.7 224.1,638.5 226.0,660.0 C227.9,681.5 231.2,712.5 235.5,734.0 C239.8,755.5 248.6,775.5 252.0,789.0 C255.4,802.5 254.7,804.7 256.0,815.0 C257.3,825.3 258.5,839.2 260.0,851.0 C261.5,862.8 262.7,875.3 265.0,886.0 C267.3,896.7 269.8,908.5 274.0,915.0 C278.2,921.5 285.7,921.7 290.0,925.0 C294.3,928.3 300.0,930.8 300.0,935.0 C300.0,939.2 301.5,946.3 290.0,950.0 C278.5,953.7 254.3,955.7 231.0,957.0 C207.7,958.3 169.7,958.2 150.0,958.0 C130.3,957.8 121.3,958.0 113.0,956.0 C104.7,954.0 103.8,949.0 100.0,946.0 C96.2,943.0 90.0,938.0 90.0,938.0 C90.0,938.0 90.0,548.0 90.0,548.0Z" fill="#000" filter="url(#rf23)"/>
<path d="M97.0,548.0 C97.0,548.0 181.5,548.0 181.5,548.0 C181.5,548.0 181.7,586.3 183.0,605.0 C184.3,623.7 186.6,638.5 189.5,660.0 C192.4,681.5 198.2,712.5 200.6,734.0 C203.0,755.5 203.1,775.5 204.2,789.0 C205.3,802.5 206.4,804.7 207.0,815.0 C207.6,825.3 207.5,839.2 208.0,851.0 C208.5,862.8 209.3,877.2 210.0,886.0 C210.7,894.8 212.7,897.5 212.0,904.0 C211.3,910.5 209.3,918.8 206.0,925.0 C202.7,931.2 199.7,937.2 192.0,941.0 C184.3,944.8 170.3,947.0 160.0,948.0 C149.7,949.0 137.8,948.3 130.0,947.0 C122.2,945.7 117.5,943.7 113.0,940.0 C108.5,936.3 105.7,931.7 103.0,925.0 C100.3,918.3 98.0,962.8 97.0,900.0 C96.0,837.2 97.0,548.0 97.0,548.0Z" fill="#000" filter="url(#rf24)"/>
<path d="M104.0,548.0 C104.0,548.0 163.0,548.0 163.0,548.0 C163.0,548.0 162.2,586.3 163.0,605.0 C163.8,623.7 165.8,638.5 168.0,660.0 C170.2,681.5 174.3,712.5 176.0,734.0 C177.7,755.5 177.7,769.7 178.0,789.0 C178.3,808.3 178.1,833.8 178.0,850.0 C177.9,866.2 178.8,876.8 177.6,886.0 C176.4,895.2 173.1,899.2 171.0,905.0 C168.9,910.8 168.3,916.3 165.0,921.0 C161.7,925.7 155.7,930.5 151.0,933.0 C146.3,935.5 141.3,936.0 137.0,936.0 C132.7,936.0 128.5,935.3 125.0,933.0 C121.5,930.7 118.5,926.7 116.0,922.0 C113.5,917.3 111.2,911.0 110.0,905.0 C108.8,899.0 110.0,895.2 109.0,886.0 C108.0,876.8 105.3,875.3 104.0,850.0 C102.7,824.7 101.7,765.7 101.0,734.0 C100.3,702.3 99.5,691.0 100.0,660.0 C100.5,629.0 104.0,548.0 104.0,548.0Z" fill="#000" filter="url(#rf25)"/>
<path d="M117.5,548.0 C117.5,548.0 138.5,548.0 138.5,548.0 C138.5,548.0 138.2,586.3 138.5,605.0 C138.8,623.7 139.2,638.5 140.5,660.0 C141.8,681.5 144.8,712.5 146.0,734.0 C147.2,755.5 147.3,775.5 147.5,789.0 C147.7,802.5 147.8,806.5 147.0,815.0 C146.2,823.5 143.8,834.0 142.5,840.0 C141.2,846.0 140.7,844.3 139.5,851.0 C138.3,857.7 137.4,873.2 135.5,880.0 C133.6,886.8 130.2,891.3 128.0,892.0 C125.8,892.7 124.4,889.3 122.5,884.0 C120.6,878.7 118.6,869.0 116.5,860.0 C114.4,851.0 111.5,837.5 110.0,830.0 C108.5,822.5 107.6,821.8 107.5,815.0 C107.4,808.2 109.2,802.5 109.5,789.0 C109.8,775.5 109.0,755.5 109.5,734.0 C110.0,712.5 111.5,681.5 112.5,660.0 C113.5,638.5 114.7,623.7 115.5,605.0 C116.3,586.3 117.5,548.0 117.5,548.0Z" fill="#000" filter="url(#rf26)"/>
<ellipse cx="104" cy="1009" rx="5" ry="6" fill="#BADEC0"/><ellipse cx="101" cy="960" rx="6" ry="3" fill="#4CB98E"/><ellipse cx="114" cy="974" rx="6" ry="5" fill="#BADEC0"/>
</g>
<g clip-path="url(#cb)">
<path d="M990.0,555.0 C1038.3,519.2 1239.2,530.8 1290.0,555.0 C1340.8,579.2 1310.0,659.2 1295.0,700.0 C1280.0,740.8 1249.2,788.3 1200.0,800.0 C1150.8,811.7 1035.0,810.8 1000.0,770.0 C965.0,729.2 941.7,590.8 990.0,555.0Z" fill="#000" filter="url(#rf27)"/>
<path d="M1250.0,740.0 L1390.0,690.0 L1390.0,950.0 L1250.0,950.0Z" fill="#000" filter="url(#rf28)"/>
<path d="M1265.0,640.0 L1390.0,640.0 L1390.0,720.0 L1265.0,760.0Z" fill="#000" filter="url(#rf29)"/>
<path d="M812.0,600.0 L845.0,600.0 L845.0,1000.0 L812.0,1000.0Z" fill="#000" filter="url(#rf30)"/>
<ellipse cx="821" cy="581" rx="8" ry="8.5" fill="#BADEC0"/><ellipse cx="821" cy="581" rx="6" ry="6.5" fill="#89C786"/><ellipse cx="821" cy="597" rx="6" ry="4.5" fill="#F7D5D7"/><path d="M874,598 L879,577 L885,563 L886,588 L879,600 Z" fill="#BADEC0"/>
<path d="M812.0,960.0 L1364.0,960.0 L1364.0,1015.0 L812.0,1015.0Z" fill="#000" filter="url(#rf31)"/>
<path d="M932.0,697.0 C940.7,689.8 958.0,689.8 968.0,697.0 C978.0,704.2 986.3,730.3 992.0,740.0 C997.7,749.7 994.5,747.0 1002.0,755.0 C1009.5,763.0 1025.3,782.5 1037.0,788.0 C1048.7,793.5 1060.3,786.2 1072.0,788.0 C1083.7,789.8 1095.3,794.3 1107.0,799.0 C1118.7,803.7 1130.5,807.3 1142.0,816.0 C1153.5,824.7 1164.5,840.5 1176.0,851.0 C1187.5,861.5 1199.3,869.5 1211.0,879.0 C1222.7,888.5 1234.3,900.5 1246.0,908.0 C1257.7,915.5 1271.7,919.8 1281.0,924.0 C1290.3,928.2 1301.7,928.8 1302.0,933.0 C1302.3,937.2 1292.7,945.7 1283.0,949.0 C1273.3,952.3 1291.2,951.5 1244.0,953.0 C1196.8,954.5 1052.3,956.8 1000.0,958.0 C947.7,959.2 945.0,960.2 930.0,960.0 C915.0,959.8 913.7,967.0 910.0,957.0 C906.3,947.0 908.0,926.2 908.0,900.0 C908.0,873.8 908.7,826.7 910.0,800.0 C911.3,773.3 912.3,757.2 916.0,740.0 C919.7,722.8 923.3,704.2 932.0,697.0Z" fill="#000" filter="url(#rf32)"/>
<path d="M942.0,746.0 C947.0,741.2 955.0,742.0 960.0,746.0 C965.0,750.0 965.3,763.0 972.0,770.0 C978.7,777.0 988.7,783.0 1000.0,788.0 C1011.3,793.0 1028.3,796.0 1040.0,800.0 C1051.7,804.0 1062.5,806.2 1070.0,812.0 C1077.5,817.8 1081.3,825.3 1085.0,835.0 C1088.7,844.7 1089.8,857.5 1092.0,870.0 C1094.2,882.5 1097.7,897.5 1098.0,910.0 C1098.3,922.5 1097.0,937.5 1094.0,945.0 C1091.0,952.5 1095.7,953.2 1080.0,955.0 C1064.3,956.8 1026.2,955.7 1000.0,956.0 C973.8,956.3 937.5,961.3 923.0,957.0 C908.5,952.7 914.7,947.8 913.0,930.0 C911.3,912.2 912.7,872.5 913.0,850.0 C913.3,827.5 912.2,807.5 915.0,795.0 C917.8,782.5 925.5,783.2 930.0,775.0 C934.5,766.8 937.0,750.8 942.0,746.0Z" fill="#000" filter="url(#rf33)"/>
<path d="M926.0,806.0 C929.6,800.3 935.0,798.8 938.0,796.0 C941.0,793.2 941.7,788.8 944.0,789.0 C946.3,789.2 948.3,793.8 952.0,797.0 C955.7,800.2 959.0,803.7 966.0,808.0 C973.0,812.3 986.3,814.3 994.0,823.0 C1001.7,831.7 1008.5,848.0 1012.0,860.0 C1015.5,872.0 1015.0,883.3 1014.8,895.0 C1014.6,906.7 1014.8,920.8 1011.0,930.0 C1007.2,939.2 1003.8,946.2 992.0,950.0 C980.2,953.8 952.0,956.3 940.0,953.0 C928.0,949.7 924.5,939.7 920.0,930.0 C915.5,920.3 913.6,911.7 913.0,895.0 C912.4,878.3 914.4,844.8 916.6,830.0 C918.8,815.2 922.4,811.7 926.0,806.0Z" fill="#000" filter="url(#rf34)"/>
<path d="M1040.0,800.0 L1210.0,860.0 L1200.0,940.0 L1040.0,930.0Z" fill="#000" filter="url(#rf35)"/>
<path d="M935.0,848.0 C940.3,845.0 953.8,843.3 960.0,847.0 C966.2,850.7 968.7,861.2 972.0,870.0 C975.3,878.8 979.2,890.3 980.0,900.0 C980.8,909.7 981.2,923.3 977.0,928.0 C972.8,932.7 962.3,929.8 955.0,928.0 C947.7,926.2 937.7,923.3 933.0,917.0 C928.3,910.7 927.8,898.7 927.0,890.0 C926.2,881.3 926.7,872.0 928.0,865.0 C929.3,858.0 929.7,851.0 935.0,848.0Z" fill="#000" filter="url(#rf36)"/>
<path d="M894.0,601.0 C898.7,599.2 919.3,599.2 924.0,601.0 C928.7,602.8 923.7,608.5 922.0,612.0 C920.3,615.5 915.3,618.0 914.0,622.0 C912.7,626.0 913.0,631.3 914.0,636.0 C915.0,640.7 920.0,636.0 920.0,650.0 C920.0,664.0 916.0,696.7 914.0,720.0 C912.0,743.3 909.5,766.7 908.0,790.0 C906.5,813.3 904.7,836.7 905.0,860.0 C905.3,883.3 909.7,914.0 910.0,930.0 C910.3,946.0 918.3,951.7 907.0,956.0 C895.7,960.3 856.2,960.3 842.0,956.0 C827.8,951.7 825.8,946.0 822.0,930.0 C818.2,914.0 818.3,883.3 819.0,860.0 C819.7,836.7 823.2,813.3 826.0,790.0 C828.8,766.7 832.0,739.2 836.0,720.0 C840.0,700.8 846.0,686.7 850.0,675.0 C854.0,663.3 857.0,655.7 860.0,650.0 C863.0,644.3 861.0,643.5 868.0,641.0 C875.0,638.5 896.2,638.2 902.0,635.0 C907.8,631.8 904.0,625.8 903.0,622.0 C902.0,618.2 897.5,615.5 896.0,612.0 C894.5,608.5 889.3,602.8 894.0,601.0Z" fill="#000" filter="url(#rf37)"/>
<path d="M884.0,662.0 C891.7,655.7 908.2,649.3 912.0,662.0 C915.8,674.7 908.5,716.7 907.0,738.0 C905.5,759.3 904.2,769.7 903.0,790.0 C901.8,810.3 899.4,836.7 900.0,860.0 C900.6,883.3 906.4,914.7 906.7,930.0 C907.0,945.3 912.3,948.2 902.0,952.0 C891.7,955.8 856.5,956.7 845.0,953.0 C833.5,949.3 836.2,945.5 833.0,930.0 C829.8,914.5 824.8,883.3 826.0,860.0 C827.2,836.7 836.5,810.3 840.0,790.0 C843.5,769.7 842.7,753.0 847.0,738.0 C851.3,723.0 859.8,712.7 866.0,700.0 C872.2,687.3 876.3,668.3 884.0,662.0Z" fill="#000" filter="url(#rf38)"/>
<path d="M868.0,800.0 C874.3,795.2 881.3,793.5 886.0,796.0 C890.7,798.5 893.7,804.3 896.0,815.0 C898.3,825.7 898.5,840.8 899.7,860.0 C900.9,879.2 903.5,915.2 903.0,930.0 C902.5,944.8 905.8,945.8 897.0,949.0 C888.2,952.2 859.5,952.2 850.0,949.0 C840.5,945.8 842.2,943.2 840.0,930.0 C837.8,916.8 835.7,887.5 837.0,870.0 C838.3,852.5 842.8,836.7 848.0,825.0 C853.2,813.3 861.7,804.8 868.0,800.0Z" fill="#000" filter="url(#rf39)"/>
<path d="M852.0,760.0 L880.0,760.0 L890.0,800.0 L850.0,800.0Z" fill="#000" filter="url(#rf40)"/>
<path d="M850.0,875.0 L892.0,875.0 L895.0,945.0 L850.0,945.0Z" fill="#000" filter="url(#rf41)"/>
</g>
<path d="M208.7,92.5 L198.8,97.4 L182.3,109.0 L180.7,120.5 L186.0,136.5 L193.0,159.6 L185.6,165.8 L173.6,179.0 L172.4,190.0 L166.5,211.0 L175.7,229.3 L182.5,236.0 L183.0,260.0 L184.3,282.0 L186.0,300.0 L187.9,321.5 L187.9,353.6 L191.0,372.0 L195.0,389.0 L190.0,405.0 L187.9,417.6 L192.0,432.0 L196.8,449.7 L207.4,478.0 L218.0,506.6 L228.0,524.0 L239.5,540.0 L241.0,545.0" fill="none" stroke="#111" stroke-width="3.2" stroke-dasharray="6 8" stroke-linejoin="round"/>
<path d="M246.2,554.6 L288.3,598.3 L265.6,617.7 L288.3,637.1 L288.3,643.6 L260.7,669.5 L265.6,695.3 L259.1,708.3 L278.5,724.5 L307.7,766.5 L336.8,787.6 L307.7,797.3 L320.6,815.1 L343.3,824.8 L365.9,837.8 L359.5,850.7 L348.1,860.4 L336.8,871.7 L378.9,884.7 L424.2,897.6 L408.0,907.3 L430.7,913.8 L424.2,923.5 L498.6,939.7 L424.2,952.6 L323.9,960.7 L424.2,965.6" fill="none" stroke="#111" stroke-width="3.2" stroke-dasharray="9 6" stroke-linejoin="round"/>
<path d="M955.5,649.0 L920.6,658.7 L919.2,665.7 L929.0,695.0 L937.3,700.7 L929.0,705.0 L913.6,709.0 L910.8,717.5 L912.2,737.0 L909.4,767.8 L905.2,795.8 L901.0,851.7 L901.0,893.7 L905.2,935.7 L908.0,955.2 L903.8,963.6 L924.8,962.2" fill="none" stroke="#111" stroke-width="3.2" stroke-dasharray="9 6" stroke-linejoin="round"/>
<rect x="91" y="544" width="559" height="9.5" fill="#fff"/>
<line x1="91.0" y1="75.4" x2="91.0" y2="541.0" stroke="#000" stroke-width="5.3" stroke-linecap="butt"/>
<line x1="91.0" y1="556.0" x2="91.0" y2="1020.4" stroke="#000" stroke-width="5.3" stroke-linecap="butt"/>
<line x1="650.0" y1="75.4" x2="650.0" y2="541.0" stroke="#000" stroke-width="5.3" stroke-linecap="butt"/>
<line x1="650.0" y1="556.0" x2="650.0" y2="1020.4" stroke="#000" stroke-width="5.3" stroke-linecap="butt"/>
<line x1="88.3" y1="78.1" x2="652.6" y2="78.1" stroke="#000" stroke-width="5.3" stroke-linecap="butt"/>
<line x1="88.3" y1="1017.8" x2="652.6" y2="1017.8" stroke="#000" stroke-width="5.3" stroke-linecap="butt"/>
<line x1="82.0" y1="550.0" x2="98.0" y2="537.0" stroke="#000" stroke-width="4.6" stroke-linecap="butt"/>
<line x1="82.0" y1="561.2" x2="98.0" y2="547.8" stroke="#000" stroke-width="4.6" stroke-linecap="butt"/>
<line x1="641.0" y1="550.0" x2="657.0" y2="537.0" stroke="#000" stroke-width="4.6" stroke-linecap="butt"/>
<line x1="641.0" y1="561.2" x2="657.0" y2="547.8" stroke="#000" stroke-width="4.6" stroke-linecap="butt"/>
<line x1="121.5" y1="80.6" x2="121.5" y2="85.1" stroke="#000" stroke-width="3.5" stroke-linecap="butt"/>
<line x1="150.9" y1="80.6" x2="150.9" y2="85.1" stroke="#000" stroke-width="3.5" stroke-linecap="butt"/>
<line x1="180.3" y1="80.6" x2="180.3" y2="85.1" stroke="#000" stroke-width="3.5" stroke-linecap="butt"/>
<line x1="239.1" y1="80.6" x2="239.1" y2="85.1" stroke="#000" stroke-width="3.5" stroke-linecap="butt"/>
<line x1="268.5" y1="80.6" x2="268.5" y2="85.1" stroke="#000" stroke-width="3.5" stroke-linecap="butt"/>
<line x1="297.9" y1="80.6" x2="297.9" y2="85.1" stroke="#000" stroke-width="3.5" stroke-linecap="butt"/>
<line x1="327.3" y1="80.6" x2="327.3" y2="85.1" stroke="#000" stroke-width="3.5" stroke-linecap="butt"/>
<line x1="386.1" y1="80.6" x2="386.1" y2="85.1" stroke="#000" stroke-width="3.5" stroke-linecap="butt"/>
<line x1="415.5" y1="80.6" x2="415.5" y2="85.1" stroke="#000" stroke-width="3.5" stroke-linecap="butt"/>
<line x1="444.9" y1="80.6" x2="444.9" y2="85.1" stroke="#000" stroke-width="3.5" stroke-linecap="butt"/>
<line x1="474.3" y1="80.6" x2="474.3" y2="85.1" stroke="#000" stroke-width="3.5" stroke-linecap="butt"/>
<line x1="533.1" y1="80.6" x2="533.1" y2="85.1" stroke="#000" stroke-width="3.5" stroke-linecap="butt"/>
<line x1="562.5" y1="80.6" x2="562.5" y2="85.1" stroke="#000" stroke-width="3.5" stroke-linecap="butt"/>
<line x1="591.9" y1="80.6" x2="591.9" y2="85.1" stroke="#000" stroke-width="3.5" stroke-linecap="butt"/>
<line x1="621.3" y1="80.6" x2="621.3" y2="85.1" stroke="#000" stroke-width="3.5" stroke-linecap="butt"/>
<line x1="209.7" y1="80.6" x2="209.7" y2="89.1" stroke="#000" stroke-width="3.5" stroke-linecap="butt"/>
<line x1="356.7" y1="80.6" x2="356.7" y2="89.1" stroke="#000" stroke-width="3.5" stroke-linecap="butt"/>
<line x1="503.7" y1="80.6" x2="503.7" y2="89.1" stroke="#000" stroke-width="3.5" stroke-linecap="butt"/>
<line x1="121.5" y1="1015.3" x2="121.5" y2="1010.8" stroke="#000" stroke-width="3.5" stroke-linecap="butt"/>
<line x1="150.9" y1="1015.3" x2="150.9" y2="1010.8" stroke="#000" stroke-width="3.5" stroke-linecap="butt"/>
<line x1="180.3" y1="1015.3" x2="180.3" y2="1010.8" stroke="#000" stroke-width="3.5" stroke-linecap="butt"/>
<line x1="239.1" y1="1015.3" x2="239.1" y2="1010.8" stroke="#000" stroke-width="3.5" stroke-linecap="butt"/>
<line x1="268.5" y1="1015.3" x2="268.5" y2="1010.8" stroke="#000" stroke-width="3.5" stroke-linecap="butt"/>
<line x1="297.9" y1="1015.3" x2="297.9" y2="1010.8" stroke="#000" stroke-width="3.5" stroke-linecap="butt"/>
<line x1="327.3" y1="1015.3" x2="327.3" y2="1010.8" stroke="#000" stroke-width="3.5" stroke-linecap="butt"/>
<line x1="386.1" y1="1015.3" x2="386.1" y2="1010.8" stroke="#000" stroke-width="3.5" stroke-linecap="butt"/>
<line x1="415.5" y1="1015.3" x2="415.5" y2="1010.8" stroke="#000" stroke-width="3.5" stroke-linecap="butt"/>
<line x1="444.9" y1="1015.3" x2="444.9" y2="1010.8" stroke="#000" stroke-width="3.5" stroke-linecap="butt"/>
<line x1="474.3" y1="1015.3" x2="474.3" y2="1010.8" stroke="#000" stroke-width="3.5" stroke-linecap="butt"/>
<line x1="533.1" y1="1015.3" x2="533.1" y2="1010.8" stroke="#000" stroke-width="3.5" stroke-linecap="butt"/>
<line x1="562.5" y1="1015.3" x2="562.5" y2="1010.8" stroke="#000" stroke-width="3.5" stroke-linecap="butt"/>
<line x1="591.9" y1="1015.3" x2="591.9" y2="1010.8" stroke="#000" stroke-width="3.5" stroke-linecap="butt"/>
<line x1="621.3" y1="1015.3" x2="621.3" y2="1010.8" stroke="#000" stroke-width="3.5" stroke-linecap="butt"/>
<line x1="209.7" y1="1015.3" x2="209.7" y2="1006.8" stroke="#000" stroke-width="3.5" stroke-linecap="butt"/>
<line x1="356.7" y1="1015.3" x2="356.7" y2="1006.8" stroke="#000" stroke-width="3.5" stroke-linecap="butt"/>
<line x1="503.7" y1="1015.3" x2="503.7" y2="1006.8" stroke="#000" stroke-width="3.5" stroke-linecap="butt"/>
<line x1="93.5" y1="89.5" x2="102.0" y2="89.5" stroke="#000" stroke-width="3.5" stroke-linecap="butt"/>
<line x1="93.5" y1="189.3" x2="102.0" y2="189.3" stroke="#000" stroke-width="3.5" stroke-linecap="butt"/>
<line x1="93.5" y1="289.1" x2="102.0" y2="289.1" stroke="#000" stroke-width="3.5" stroke-linecap="butt"/>
<line x1="93.5" y1="388.9" x2="102.0" y2="388.9" stroke="#000" stroke-width="3.5" stroke-linecap="butt"/>
<line x1="93.5" y1="488.7" x2="102.0" y2="488.7" stroke="#000" stroke-width="3.5" stroke-linecap="butt"/>
<line x1="93.5" y1="114.5" x2="98.0" y2="114.5" stroke="#000" stroke-width="3.5" stroke-linecap="butt"/>
<line x1="93.5" y1="139.4" x2="98.0" y2="139.4" stroke="#000" stroke-width="3.5" stroke-linecap="butt"/>
<line x1="93.5" y1="164.4" x2="98.0" y2="164.4" stroke="#000" stroke-width="3.5" stroke-linecap="butt"/>
<line x1="93.5" y1="214.2" x2="98.0" y2="214.2" stroke="#000" stroke-width="3.5" stroke-linecap="butt"/>
<line x1="93.5" y1="239.2" x2="98.0" y2="239.2" stroke="#000" stroke-width="3.5" stroke-linecap="butt"/>
<line x1="93.5" y1="264.1" x2="98.0" y2="264.1" stroke="#000" stroke-width="3.5" stroke-linecap="butt"/>
<line x1="93.5" y1="314.1" x2="98.0" y2="314.1" stroke="#000" stroke-width="3.5" stroke-linecap="butt"/>
<line x1="93.5" y1="339.0" x2="98.0" y2="339.0" stroke="#000" stroke-width="3.5" stroke-linecap="butt"/>
<line x1="93.5" y1="363.9" x2="98.0" y2="363.9" stroke="#000" stroke-width="3.5" stroke-linecap="butt"/>
<line x1="93.5" y1="413.9" x2="98.0" y2="413.9" stroke="#000" stroke-width="3.5" stroke-linecap="butt"/>
<line x1="93.5" y1="438.8" x2="98.0" y2="438.8" stroke="#000" stroke-width="3.5" stroke-linecap="butt"/>
<line x1="93.5" y1="463.8" x2="98.0" y2="463.8" stroke="#000" stroke-width="3.5" stroke-linecap="butt"/>
<line x1="93.5" y1="513.7" x2="98.0" y2="513.7" stroke="#000" stroke-width="3.5" stroke-linecap="butt"/>
<line x1="93.5" y1="538.6" x2="98.0" y2="538.6" stroke="#000" stroke-width="3.5" stroke-linecap="butt"/>
<line x1="647.5" y1="89.5" x2="639.0" y2="89.5" stroke="#000" stroke-width="3.5" stroke-linecap="butt"/>
<line x1="647.5" y1="189.3" x2="639.0" y2="189.3" stroke="#000" stroke-width="3.5" stroke-linecap="butt"/>
<line x1="647.5" y1="289.1" x2="639.0" y2="289.1" stroke="#000" stroke-width="3.5" stroke-linecap="butt"/>
<line x1="647.5" y1="388.9" x2="639.0" y2="388.9" stroke="#000" stroke-width="3.5" stroke-linecap="butt"/>
<line x1="647.5" y1="488.7" x2="639.0" y2="488.7" stroke="#000" stroke-width="3.5" stroke-linecap="butt"/>
<line x1="647.5" y1="114.5" x2="643.0" y2="114.5" stroke="#000" stroke-width="3.5" stroke-linecap="butt"/>
<line x1="647.5" y1="139.4" x2="643.0" y2="139.4" stroke="#000" stroke-width="3.5" stroke-linecap="butt"/>
<line x1="647.5" y1="164.4" x2="643.0" y2="164.4" stroke="#000" stroke-width="3.5" stroke-linecap="butt"/>
<line x1="647.5" y1="214.2" x2="643.0" y2="214.2" stroke="#000" stroke-width="3.5" stroke-linecap="butt"/>
<line x1="647.5" y1="239.2" x2="643.0" y2="239.2" stroke="#000" stroke-width="3.5" stroke-linecap="butt"/>
<line x1="647.5" y1="264.1" x2="643.0" y2="264.1" stroke="#000" stroke-width="3.5" stroke-linecap="butt"/>
<line x1="647.5" y1="314.1" x2="643.0" y2="314.1" stroke="#000" stroke-width="3.5" stroke-linecap="butt"/>
<line x1="647.5" y1="339.0" x2="643.0" y2="339.0" stroke="#000" stroke-width="3.5" stroke-linecap="butt"/>
<line x1="647.5" y1="363.9" x2="643.0" y2="363.9" stroke="#000" stroke-width="3.5" stroke-linecap="butt"/>
<line x1="647.5" y1="413.9" x2="643.0" y2="413.9" stroke="#000" stroke-width="3.5" stroke-linecap="butt"/>
<line x1="647.5" y1="438.8" x2="643.0" y2="438.8" stroke="#000" stroke-width="3.5" stroke-linecap="butt"/>
<line x1="647.5" y1="463.8" x2="643.0" y2="463.8" stroke="#000" stroke-width="3.5" stroke-linecap="butt"/>
<line x1="647.5" y1="513.7" x2="643.0" y2="513.7" stroke="#000" stroke-width="3.5" stroke-linecap="butt"/>
<line x1="647.5" y1="538.6" x2="643.0" y2="538.6" stroke="#000" stroke-width="3.5" stroke-linecap="butt"/>
<line x1="93.5" y1="653.1" x2="102.0" y2="653.1" stroke="#000" stroke-width="3.5" stroke-linecap="butt"/>
<line x1="93.5" y1="757.4" x2="102.0" y2="757.4" stroke="#000" stroke-width="3.5" stroke-linecap="butt"/>
<line x1="93.5" y1="861.7" x2="102.0" y2="861.7" stroke="#000" stroke-width="3.5" stroke-linecap="butt"/>
<line x1="93.5" y1="966.0" x2="102.0" y2="966.0" stroke="#000" stroke-width="3.5" stroke-linecap="butt"/>
<line x1="93.5" y1="574.9" x2="98.0" y2="574.9" stroke="#000" stroke-width="3.5" stroke-linecap="butt"/>
<line x1="93.5" y1="601.0" x2="98.0" y2="601.0" stroke="#000" stroke-width="3.5" stroke-linecap="butt"/>
<line x1="93.5" y1="627.0" x2="98.0" y2="627.0" stroke="#000" stroke-width="3.5" stroke-linecap="butt"/>
<line x1="93.5" y1="679.2" x2="98.0" y2="679.2" stroke="#000" stroke-width="3.5" stroke-linecap="butt"/>
<line x1="93.5" y1="705.2" x2="98.0" y2="705.2" stroke="#000" stroke-width="3.5" stroke-linecap="butt"/>
<line x1="93.5" y1="731.3" x2="98.0" y2="731.3" stroke="#000" stroke-width="3.5" stroke-linecap="butt"/>
<line x1="93.5" y1="783.5" x2="98.0" y2="783.5" stroke="#000" stroke-width="3.5" stroke-linecap="butt"/>
<line x1="93.5" y1="809.5" x2="98.0" y2="809.5" stroke="#000" stroke-width="3.5" stroke-linecap="butt"/>
<line x1="93.5" y1="835.6" x2="98.0" y2="835.6" stroke="#000" stroke-width="3.5" stroke-linecap="butt"/>
<line x1="93.5" y1="887.8" x2="98.0" y2="887.8" stroke="#000" stroke-width="3.5" stroke-linecap="butt"/>
<line x1="93.5" y1="913.9" x2="98.0" y2="913.9" stroke="#000" stroke-width="3.5" stroke-linecap="butt"/>
<line x1="93.5" y1="939.9" x2="98.0" y2="939.9" stroke="#000" stroke-width="3.5" stroke-linecap="butt"/>
<line x1="93.5" y1="992.1" x2="98.0" y2="992.1" stroke="#000" stroke-width="3.5" stroke-linecap="butt"/>
<line x1="647.5" y1="653.1" x2="639.0" y2="653.1" stroke="#000" stroke-width="3.5" stroke-linecap="butt"/>
<line x1="647.5" y1="757.4" x2="639.0" y2="757.4" stroke="#000" stroke-width="3.5" stroke-linecap="butt"/>
<line x1="647.5" y1="861.7" x2="639.0" y2="861.7" stroke="#000" stroke-width="3.5" stroke-linecap="butt"/>
<line x1="647.5" y1="966.0" x2="639.0" y2="966.0" stroke="#000" stroke-width="3.5" stroke-linecap="butt"/>
<line x1="647.5" y1="574.9" x2="643.0" y2="574.9" stroke="#000" stroke-width="3.5" stroke-linecap="butt"/>
<line x1="647.5" y1="601.0" x2="643.0" y2="601.0" stroke="#000" stroke-width="3.5" stroke-linecap="butt"/>
<line x1="647.5" y1="627.0" x2="643.0" y2="627.0" stroke="#000" stroke-width="3.5" stroke-linecap="butt"/>
<line x1="647.5" y1="679.2" x2="643.0" y2="679.2" stroke="#000" stroke-width="3.5" stroke-linecap="butt"/>
<line x1="647.5" y1="705.2" x2="643.0" y2="705.2" stroke="#000" stroke-width="3.5" stroke-linecap="butt"/>
<line x1="647.5" y1="731.3" x2="643.0" y2="731.3" stroke="#000" stroke-width="3.5" stroke-linecap="butt"/>
<line x1="647.5" y1="783.5" x2="643.0" y2="783.5" stroke="#000" stroke-width="3.5" stroke-linecap="butt"/>
<line x1="647.5" y1="809.5" x2="643.0" y2="809.5" stroke="#000" stroke-width="3.5" stroke-linecap="butt"/>
<line x1="647.5" y1="835.6" x2="643.0" y2="835.6" stroke="#000" stroke-width="3.5" stroke-linecap="butt"/>
<line x1="647.5" y1="887.8" x2="643.0" y2="887.8" stroke="#000" stroke-width="3.5" stroke-linecap="butt"/>
<line x1="647.5" y1="913.9" x2="643.0" y2="913.9" stroke="#000" stroke-width="3.5" stroke-linecap="butt"/>
<line x1="647.5" y1="939.9" x2="643.0" y2="939.9" stroke="#000" stroke-width="3.5" stroke-linecap="butt"/>
<line x1="647.5" y1="992.1" x2="643.0" y2="992.1" stroke="#000" stroke-width="3.5" stroke-linecap="butt"/>
<rect x="809.6" y="548.65" width="556.9" height="469.25" fill="none" stroke="#000" stroke-width="5.3"/>
<line x1="836.3" y1="551.1" x2="836.3" y2="555.6" stroke="#000" stroke-width="3.5" stroke-linecap="butt"/>
<line x1="907.3" y1="551.1" x2="907.3" y2="555.6" stroke="#000" stroke-width="3.5" stroke-linecap="butt"/>
<line x1="942.7" y1="551.1" x2="942.7" y2="555.6" stroke="#000" stroke-width="3.5" stroke-linecap="butt"/>
<line x1="978.2" y1="551.1" x2="978.2" y2="555.6" stroke="#000" stroke-width="3.5" stroke-linecap="butt"/>
<line x1="1013.6" y1="551.1" x2="1013.6" y2="555.6" stroke="#000" stroke-width="3.5" stroke-linecap="butt"/>
<line x1="1084.6" y1="551.1" x2="1084.6" y2="555.6" stroke="#000" stroke-width="3.5" stroke-linecap="butt"/>
<line x1="1120.0" y1="551.1" x2="1120.0" y2="555.6" stroke="#000" stroke-width="3.5" stroke-linecap="butt"/>
<line x1="1155.5" y1="551.1" x2="1155.5" y2="555.6" stroke="#000" stroke-width="3.5" stroke-linecap="butt"/>
<line x1="1190.9" y1="551.1" x2="1190.9" y2="555.6" stroke="#000" stroke-width="3.5" stroke-linecap="butt"/>
<line x1="1261.9" y1="551.1" x2="1261.9" y2="555.6" stroke="#000" stroke-width="3.5" stroke-linecap="butt"/>
<line x1="1297.3" y1="551.1" x2="1297.3" y2="555.6" stroke="#000" stroke-width="3.5" stroke-linecap="butt"/>
<line x1="1332.8" y1="551.1" x2="1332.8" y2="555.6" stroke="#000" stroke-width="3.5" stroke-linecap="butt"/>
<line x1="871.8" y1="551.1" x2="871.8" y2="559.6" stroke="#000" stroke-width="3.5" stroke-linecap="butt"/>
<line x1="1049.1" y1="551.1" x2="1049.1" y2="559.6" stroke="#000" stroke-width="3.5" stroke-linecap="butt"/>
<line x1="1226.4" y1="551.1" x2="1226.4" y2="559.6" stroke="#000" stroke-width="3.5" stroke-linecap="butt"/>
<line x1="836.3" y1="1015.4" x2="836.3" y2="1010.9" stroke="#000" stroke-width="3.5" stroke-linecap="butt"/>
<line x1="907.3" y1="1015.4" x2="907.3" y2="1010.9" stroke="#000" stroke-width="3.5" stroke-linecap="butt"/>
<line x1="942.7" y1="1015.4" x2="942.7" y2="1010.9" stroke="#000" stroke-width="3.5" stroke-linecap="butt"/>
<line x1="978.2" y1="1015.4" x2="978.2" y2="1010.9" stroke="#000" stroke-width="3.5" stroke-linecap="butt"/>
<line x1="1013.6" y1="1015.4" x2="1013.6" y2="1010.9" stroke="#000" stroke-width="3.5" stroke-linecap="butt"/>
<line x1="1084.6" y1="1015.4" x2="1084.6" y2="1010.9" stroke="#000" stroke-width="3.5" stroke-linecap="butt"/>
<line x1="1120.0" y1="1015.4" x2="1120.0" y2="1010.9" stroke="#000" stroke-width="3.5" stroke-linecap="butt"/>
<line x1="1155.5" y1="1015.4" x2="1155.5" y2="1010.9" stroke="#000" stroke-width="3.5" stroke-linecap="butt"/>
<line x1="1190.9" y1="1015.4" x2="1190.9" y2="1010.9" stroke="#000" stroke-width="3.5" stroke-linecap="butt"/>
<line x1="1261.9" y1="1015.4" x2="1261.9" y2="1010.9" stroke="#000" stroke-width="3.5" stroke-linecap="butt"/>
<line x1="1297.3" y1="1015.4" x2="1297.3" y2="1010.9" stroke="#000" stroke-width="3.5" stroke-linecap="butt"/>
<line x1="1332.8" y1="1015.4" x2="1332.8" y2="1010.9" stroke="#000" stroke-width="3.5" stroke-linecap="butt"/>
<line x1="871.8" y1="1015.4" x2="871.8" y2="1006.9" stroke="#000" stroke-width="3.5" stroke-linecap="butt"/>
<line x1="1049.1" y1="1015.4" x2="1049.1" y2="1006.9" stroke="#000" stroke-width="3.5" stroke-linecap="butt"/>
<line x1="1226.4" y1="1015.4" x2="1226.4" y2="1006.9" stroke="#000" stroke-width="3.5" stroke-linecap="butt"/>
<line x1="812.1" y1="653.1" x2="820.6" y2="653.1" stroke="#000" stroke-width="3.5" stroke-linecap="butt"/>
<line x1="812.1" y1="757.4" x2="820.6" y2="757.4" stroke="#000" stroke-width="3.5" stroke-linecap="butt"/>
<line x1="812.1" y1="861.7" x2="820.6" y2="861.7" stroke="#000" stroke-width="3.5" stroke-linecap="butt"/>
<line x1="812.1" y1="966.0" x2="820.6" y2="966.0" stroke="#000" stroke-width="3.5" stroke-linecap="butt"/>
<line x1="812.1" y1="574.9" x2="816.6" y2="574.9" stroke="#000" stroke-width="3.5" stroke-linecap="butt"/>
<line x1="812.1" y1="601.0" x2="816.6" y2="601.0" stroke="#000" stroke-width="3.5" stroke-linecap="butt"/>
<line x1="812.1" y1="627.0" x2="816.6" y2="627.0" stroke="#000" stroke-width="3.5" stroke-linecap="butt"/>
<line x1="812.1" y1="679.2" x2="816.6" y2="679.2" stroke="#000" stroke-width="3.5" stroke-linecap="butt"/>
<line x1="812.1" y1="705.2" x2="816.6" y2="705.2" stroke="#000" stroke-width="3.5" stroke-linecap="butt"/>
<line x1="812.1" y1="731.3" x2="816.6" y2="731.3" stroke="#000" stroke-width="3.5" stroke-linecap="butt"/>
<line x1="812.1" y1="783.5" x2="816.6" y2="783.5" stroke="#000" stroke-width="3.5" stroke-linecap="butt"/>
<line x1="812.1" y1="809.5" x2="816.6" y2="809.5" stroke="#000" stroke-width="3.5" stroke-linecap="butt"/>
<line x1="812.1" y1="835.6" x2="816.6" y2="835.6" stroke="#000" stroke-width="3.5" stroke-linecap="butt"/>
<line x1="812.1" y1="887.8" x2="816.6" y2="887.8" stroke="#000" stroke-width="3.5" stroke-linecap="butt"/>
<line x1="812.1" y1="913.9" x2="816.6" y2="913.9" stroke="#000" stroke-width="3.5" stroke-linecap="butt"/>
<line x1="812.1" y1="939.9" x2="816.6" y2="939.9" stroke="#000" stroke-width="3.5" stroke-linecap="butt"/>
<line x1="812.1" y1="992.1" x2="816.6" y2="992.1" stroke="#000" stroke-width="3.5" stroke-linecap="butt"/>
<line x1="1364.0" y1="653.1" x2="1355.5" y2="653.1" stroke="#000" stroke-width="3.5" stroke-linecap="butt"/>
<line x1="1364.0" y1="757.4" x2="1355.5" y2="757.4" stroke="#000" stroke-width="3.5" stroke-linecap="butt"/>
<line x1="1364.0" y1="861.7" x2="1355.5" y2="861.7" stroke="#000" stroke-width="3.5" stroke-linecap="butt"/>
<line x1="1364.0" y1="966.0" x2="1355.5" y2="966.0" stroke="#000" stroke-width="3.5" stroke-linecap="butt"/>
<line x1="1364.0" y1="574.9" x2="1359.5" y2="574.9" stroke="#000" stroke-width="3.5" stroke-linecap="butt"/>
<line x1="1364.0" y1="601.0" x2="1359.5" y2="601.0" stroke="#000" stroke-width="3.5" stroke-linecap="butt"/>
<line x1="1364.0" y1="627.0" x2="1359.5" y2="627.0" stroke="#000" stroke-width="3.5" stroke-linecap="butt"/>
<line x1="1364.0" y1="679.2" x2="1359.5" y2="679.2" stroke="#000" stroke-width="3.5" stroke-linecap="butt"/>
<line x1="1364.0" y1="705.2" x2="1359.5" y2="705.2" stroke="#000" stroke-width="3.5" stroke-linecap="butt"/>
<line x1="1364.0" y1="731.3" x2="1359.5" y2="731.3" stroke="#000" stroke-width="3.5" stroke-linecap="butt"/>
<line x1="1364.0" y1="783.5" x2="1359.5" y2="783.5" stroke="#000" stroke-width="3.5" stroke-linecap="butt"/>
<line x1="1364.0" y1="809.5" x2="1359.5" y2="809.5" stroke="#000" stroke-width="3.5" stroke-linecap="butt"/>
<line x1="1364.0" y1="835.6" x2="1359.5" y2="835.6" stroke="#000" stroke-width="3.5" stroke-linecap="butt"/>
<line x1="1364.0" y1="887.8" x2="1359.5" y2="887.8" stroke="#000" stroke-width="3.5" stroke-linecap="butt"/>
<line x1="1364.0" y1="913.9" x2="1359.5" y2="913.9" stroke="#000" stroke-width="3.5" stroke-linecap="butt"/>
<line x1="1364.0" y1="939.9" x2="1359.5" y2="939.9" stroke="#000" stroke-width="3.5" stroke-linecap="butt"/>
<line x1="1364.0" y1="992.1" x2="1359.5" y2="992.1" stroke="#000" stroke-width="3.5" stroke-linecap="butt"/>
<rect x="91.6" y="1031" width="559.1" height="247.29999999999995" fill="none" stroke="#000" stroke-width="5.3"/>
<line x1="121.5" y1="1033.5" x2="121.5" y2="1038.0" stroke="#000" stroke-width="3.5" stroke-linecap="butt"/>
<line x1="150.9" y1="1033.5" x2="150.9" y2="1038.0" stroke="#000" stroke-width="3.5" stroke-linecap="butt"/>
<line x1="180.3" y1="1033.5" x2="180.3" y2="1038.0" stroke="#000" stroke-width="3.5" stroke-linecap="butt"/>
<line x1="239.1" y1="1033.5" x2="239.1" y2="1038.0" stroke="#000" stroke-width="3.5" stroke-linecap="butt"/>
<line x1="268.5" y1="1033.5" x2="268.5" y2="1038.0" stroke="#000" stroke-width="3.5" stroke-linecap="butt"/>
<line x1="297.9" y1="1033.5" x2="297.9" y2="1038.0" stroke="#000" stroke-width="3.5" stroke-linecap="butt"/>
<line x1="327.3" y1="1033.5" x2="327.3" y2="1038.0" stroke="#000" stroke-width="3.5" stroke-linecap="butt"/>
<line x1="386.1" y1="1033.5" x2="386.1" y2="1038.0" stroke="#000" stroke-width="3.5" stroke-linecap="butt"/>
<line x1="415.5" y1="1033.5" x2="415.5" y2="1038.0" stroke="#000" stroke-width="3.5" stroke-linecap="butt"/>
<line x1="444.9" y1="1033.5" x2="444.9" y2="1038.0" stroke="#000" stroke-width="3.5" stroke-linecap="butt"/>
<line x1="474.3" y1="1033.5" x2="474.3" y2="1038.0" stroke="#000" stroke-width="3.5" stroke-linecap="butt"/>
<line x1="533.1" y1="1033.5" x2="533.1" y2="1038.0" stroke="#000" stroke-width="3.5" stroke-linecap="butt"/>
<line x1="562.5" y1="1033.5" x2="562.5" y2="1038.0" stroke="#000" stroke-width="3.5" stroke-linecap="butt"/>
<line x1="591.9" y1="1033.5" x2="591.9" y2="1038.0" stroke="#000" stroke-width="3.5" stroke-linecap="butt"/>
<line x1="621.3" y1="1033.5" x2="621.3" y2="1038.0" stroke="#000" stroke-width="3.5" stroke-linecap="butt"/>
<line x1="209.7" y1="1033.5" x2="209.7" y2="1042.0" stroke="#000" stroke-width="3.5" stroke-linecap="butt"/>
<line x1="356.7" y1="1033.5" x2="356.7" y2="1042.0" stroke="#000" stroke-width="3.5" stroke-linecap="butt"/>
<line x1="503.7" y1="1033.5" x2="503.7" y2="1042.0" stroke="#000" stroke-width="3.5" stroke-linecap="butt"/>
<line x1="121.5" y1="1275.8" x2="121.5" y2="1271.3" stroke="#000" stroke-width="3.5" stroke-linecap="butt"/>
<line x1="150.9" y1="1275.8" x2="150.9" y2="1271.3" stroke="#000" stroke-width="3.5" stroke-linecap="butt"/>
<line x1="180.3" y1="1275.8" x2="180.3" y2="1271.3" stroke="#000" stroke-width="3.5" stroke-linecap="butt"/>
<line x1="239.1" y1="1275.8" x2="239.1" y2="1271.3" stroke="#000" stroke-width="3.5" stroke-linecap="butt"/>
<line x1="268.5" y1="1275.8" x2="268.5" y2="1271.3" stroke="#000" stroke-width="3.5" stroke-linecap="butt"/>
<line x1="297.9" y1="1275.8" x2="297.9" y2="1271.3" stroke="#000" stroke-width="3.5" stroke-linecap="butt"/>
<line x1="327.3" y1="1275.8" x2="327.3" y2="1271.3" stroke="#000" stroke-width="3.5" stroke-linecap="butt"/>
<line x1="386.1" y1="1275.8" x2="386.1" y2="1271.3" stroke="#000" stroke-width="3.5" stroke-linecap="butt"/>
<line x1="415.5" y1="1275.8" x2="415.5" y2="1271.3" stroke="#000" stroke-width="3.5" stroke-linecap="butt"/>
<line x1="444.9" y1="1275.8" x2="444.9" y2="1271.3" stroke="#000" stroke-width="3.5" stroke-linecap="butt"/>
<line x1="474.3" y1="1275.8" x2="474.3" y2="1271.3" stroke="#000" stroke-width="3.5" stroke-linecap="butt"/>
<line x1="533.1" y1="1275.8" x2="533.1" y2="1271.3" stroke="#000" stroke-width="3.5" stroke-linecap="butt"/>
<line x1="562.5" y1="1275.8" x2="562.5" y2="1271.3" stroke="#000" stroke-width="3.5" stroke-linecap="butt"/>
<line x1="591.9" y1="1275.8" x2="591.9" y2="1271.3" stroke="#000" stroke-width="3.5" stroke-linecap="butt"/>
<line x1="621.3" y1="1275.8" x2="621.3" y2="1271.3" stroke="#000" stroke-width="3.5" stroke-linecap="butt"/>
<line x1="209.7" y1="1275.8" x2="209.7" y2="1267.3" stroke="#000" stroke-width="3.5" stroke-linecap="butt"/>
<line x1="356.7" y1="1275.8" x2="356.7" y2="1267.3" stroke="#000" stroke-width="3.5" stroke-linecap="butt"/>
<line x1="503.7" y1="1275.8" x2="503.7" y2="1267.3" stroke="#000" stroke-width="3.5" stroke-linecap="butt"/>
<line x1="94.1" y1="1072.2" x2="98.6" y2="1072.2" stroke="#000" stroke-width="3.5" stroke-linecap="butt"/>
<line x1="94.1" y1="1113.3" x2="98.6" y2="1113.3" stroke="#000" stroke-width="3.5" stroke-linecap="butt"/>
<line x1="94.1" y1="1154.5" x2="98.6" y2="1154.5" stroke="#000" stroke-width="3.5" stroke-linecap="butt"/>
<line x1="94.1" y1="1195.7" x2="98.6" y2="1195.7" stroke="#000" stroke-width="3.5" stroke-linecap="butt"/>
<line x1="94.1" y1="1236.8" x2="98.6" y2="1236.8" stroke="#000" stroke-width="3.5" stroke-linecap="butt"/>
<line x1="648.2" y1="1072.2" x2="643.7" y2="1072.2" stroke="#000" stroke-width="3.5" stroke-linecap="butt"/>
<line x1="648.2" y1="1113.3" x2="643.7" y2="1113.3" stroke="#000" stroke-width="3.5" stroke-linecap="butt"/>
<line x1="648.2" y1="1154.5" x2="643.7" y2="1154.5" stroke="#000" stroke-width="3.5" stroke-linecap="butt"/>
<line x1="648.2" y1="1195.7" x2="643.7" y2="1195.7" stroke="#000" stroke-width="3.5" stroke-linecap="butt"/>
<line x1="648.2" y1="1236.8" x2="643.7" y2="1236.8" stroke="#000" stroke-width="3.5" stroke-linecap="butt"/>
<rect x="809.6" y="1030.7" width="558.9999999999999" height="247.39999999999986" fill="none" stroke="#000" stroke-width="5.3"/>
<line x1="836.3" y1="1033.2" x2="836.3" y2="1037.7" stroke="#000" stroke-width="3.5" stroke-linecap="butt"/>
<line x1="907.3" y1="1033.2" x2="907.3" y2="1037.7" stroke="#000" stroke-width="3.5" stroke-linecap="butt"/>
<line x1="942.7" y1="1033.2" x2="942.7" y2="1037.7" stroke="#000" stroke-width="3.5" stroke-linecap="butt"/>
<line x1="978.2" y1="1033.2" x2="978.2" y2="1037.7" stroke="#000" stroke-width="3.5" stroke-linecap="butt"/>
<line x1="1013.6" y1="1033.2" x2="1013.6" y2="1037.7" stroke="#000" stroke-width="3.5" stroke-linecap="butt"/>
<line x1="1084.6" y1="1033.2" x2="1084.6" y2="1037.7" stroke="#000" stroke-width="3.5" stroke-linecap="butt"/>
<line x1="1120.0" y1="1033.2" x2="1120.0" y2="1037.7" stroke="#000" stroke-width="3.5" stroke-linecap="butt"/>
<line x1="1155.5" y1="1033.2" x2="1155.5" y2="1037.7" stroke="#000" stroke-width="3.5" stroke-linecap="butt"/>
<line x1="1190.9" y1="1033.2" x2="1190.9" y2="1037.7" stroke="#000" stroke-width="3.5" stroke-linecap="butt"/>
<line x1="1261.9" y1="1033.2" x2="1261.9" y2="1037.7" stroke="#000" stroke-width="3.5" stroke-linecap="butt"/>
<line x1="1297.3" y1="1033.2" x2="1297.3" y2="1037.7" stroke="#000" stroke-width="3.5" stroke-linecap="butt"/>
<line x1="1332.8" y1="1033.2" x2="1332.8" y2="1037.7" stroke="#000" stroke-width="3.5" stroke-linecap="butt"/>
<line x1="871.8" y1="1033.2" x2="871.8" y2="1041.7" stroke="#000" stroke-width="3.5" stroke-linecap="butt"/>
<line x1="1049.1" y1="1033.2" x2="1049.1" y2="1041.7" stroke="#000" stroke-width="3.5" stroke-linecap="butt"/>
<line x1="1226.4" y1="1033.2" x2="1226.4" y2="1041.7" stroke="#000" stroke-width="3.5" stroke-linecap="butt"/>
<line x1="836.3" y1="1275.6" x2="836.3" y2="1271.1" stroke="#000" stroke-width="3.5" stroke-linecap="butt"/>
<line x1="907.3" y1="1275.6" x2="907.3" y2="1271.1" stroke="#000" stroke-width="3.5" stroke-linecap="butt"/>
<line x1="942.7" y1="1275.6" x2="942.7" y2="1271.1" stroke="#000" stroke-width="3.5" stroke-linecap="butt"/>
<line x1="978.2" y1="1275.6" x2="978.2" y2="1271.1" stroke="#000" stroke-width="3.5" stroke-linecap="butt"/>
<line x1="1013.6" y1="1275.6" x2="1013.6" y2="1271.1" stroke="#000" stroke-width="3.5" stroke-linecap="butt"/>
<line x1="1084.6" y1="1275.6" x2="1084.6" y2="1271.1" stroke="#000" stroke-width="3.5" stroke-linecap="butt"/>
<line x1="1120.0" y1="1275.6" x2="1120.0" y2="1271.1" stroke="#000" stroke-width="3.5" stroke-linecap="butt"/>
<line x1="1155.5" y1="1275.6" x2="1155.5" y2="1271.1" stroke="#000" stroke-width="3.5" stroke-linecap="butt"/>
<line x1="1190.9" y1="1275.6" x2="1190.9" y2="1271.1" stroke="#000" stroke-width="3.5" stroke-linecap="butt"/>
<line x1="1261.9" y1="1275.6" x2="1261.9" y2="1271.1" stroke="#000" stroke-width="3.5" stroke-linecap="butt"/>
<line x1="1297.3" y1="1275.6" x2="1297.3" y2="1271.1" stroke="#000" stroke-width="3.5" stroke-linecap="butt"/>
<line x1="1332.8" y1="1275.6" x2="1332.8" y2="1271.1" stroke="#000" stroke-width="3.5" stroke-linecap="butt"/>
<line x1="871.8" y1="1275.6" x2="871.8" y2="1267.1" stroke="#000" stroke-width="3.5" stroke-linecap="butt"/>
<line x1="1049.1" y1="1275.6" x2="1049.1" y2="1267.1" stroke="#000" stroke-width="3.5" stroke-linecap="butt"/>
<line x1="1226.4" y1="1275.6" x2="1226.4" y2="1267.1" stroke="#000" stroke-width="3.5" stroke-linecap="butt"/>
<line x1="812.1" y1="1072.2" x2="816.6" y2="1072.2" stroke="#000" stroke-width="3.5" stroke-linecap="butt"/>
<line x1="812.1" y1="1113.3" x2="816.6" y2="1113.3" stroke="#000" stroke-width="3.5" stroke-linecap="butt"/>
<line x1="812.1" y1="1154.5" x2="816.6" y2="1154.5" stroke="#000" stroke-width="3.5" stroke-linecap="butt"/>
<line x1="812.1" y1="1195.7" x2="816.6" y2="1195.7" stroke="#000" stroke-width="3.5" stroke-linecap="butt"/>
<line x1="812.1" y1="1236.8" x2="816.6" y2="1236.8" stroke="#000" stroke-width="3.5" stroke-linecap="butt"/>
<line x1="1366.1" y1="1072.2" x2="1361.6" y2="1072.2" stroke="#000" stroke-width="3.5" stroke-linecap="butt"/>
<line x1="1366.1" y1="1113.3" x2="1361.6" y2="1113.3" stroke="#000" stroke-width="3.5" stroke-linecap="butt"/>
<line x1="1366.1" y1="1154.5" x2="1361.6" y2="1154.5" stroke="#000" stroke-width="3.5" stroke-linecap="butt"/>
<line x1="1366.1" y1="1195.7" x2="1361.6" y2="1195.7" stroke="#000" stroke-width="3.5" stroke-linecap="butt"/>
<line x1="1366.1" y1="1236.8" x2="1361.6" y2="1236.8" stroke="#000" stroke-width="3.5" stroke-linecap="butt"/>
<rect x="667.5" y="76.0" width="42.0" height="107.2" fill="#E41B63"/>
<rect x="667.5" y="183.2" width="42.0" height="106.9" fill="#E8557F"/>
<rect x="667.5" y="290.1" width="42.0" height="54.9" fill="#F2AEB1"/>
<rect x="667.5" y="345.0" width="42.0" height="52.5" fill="#F7D5D7"/>
<rect x="667.5" y="397.5" width="42.0" height="39.5" fill="#fff"/>
<rect x="667.5" y="437.0" width="42.0" height="17.3" fill="#BADEC0"/>
<rect x="667.5" y="454.3" width="42.0" height="18.4" fill="#89C786"/>
<rect x="667.5" y="472.7" width="42.0" height="35.2" fill="#4CB98E"/>
<rect x="667.5" y="507.9" width="42.0" height="36.6" fill="#0A9190"/>
<rect x="667.5" y="76" width="42.0" height="468.5" fill="none" stroke="#1a1a1a" stroke-width="3.5"/>
<line x1="707.8" y1="143.1" x2="704.5" y2="143.1" stroke="#000" stroke-width="3" stroke-linecap="butt"/>
<line x1="707.8" y1="212.8" x2="704.5" y2="212.8" stroke="#000" stroke-width="3" stroke-linecap="butt"/>
<line x1="707.8" y1="282.5" x2="704.5" y2="282.5" stroke="#000" stroke-width="3" stroke-linecap="butt"/>
<line x1="707.8" y1="352.2" x2="704.5" y2="352.2" stroke="#000" stroke-width="3" stroke-linecap="butt"/>
<line x1="707.8" y1="421.9" x2="704.5" y2="421.9" stroke="#000" stroke-width="3" stroke-linecap="butt"/>
<line x1="707.8" y1="491.6" x2="704.5" y2="491.6" stroke="#000" stroke-width="3" stroke-linecap="butt"/>
<rect x="1383" y="546.0" width="41.5" height="96.4" fill="#E41B63"/>
<rect x="1383" y="642.4" width="41.5" height="99.5" fill="#E8557F"/>
<rect x="1383" y="741.9" width="41.5" height="48.8" fill="#F2AEB1"/>
<rect x="1383" y="790.7" width="41.5" height="48.7" fill="#F7D5D7"/>
<rect x="1383" y="839.4" width="41.5" height="46.9" fill="#fff"/>
<rect x="1383" y="886.3" width="41.5" height="19.5" fill="#BADEC0"/>
<rect x="1383" y="905.8" width="41.5" height="22.6" fill="#89C786"/>
<rect x="1383" y="928.4" width="41.5" height="42.9" fill="#4CB98E"/>
<rect x="1383" y="971.3" width="41.5" height="41.2" fill="#0A9190"/>
<rect x="1383" y="546" width="41.5" height="466.5" fill="none" stroke="#1a1a1a" stroke-width="3.5"/>
<line x1="1422.8" y1="580.0" x2="1419.5" y2="580.0" stroke="#000" stroke-width="3" stroke-linecap="butt"/>
<line x1="1422.8" y1="636.5" x2="1419.5" y2="636.5" stroke="#000" stroke-width="3" stroke-linecap="butt"/>
<line x1="1422.8" y1="693.1" x2="1419.5" y2="693.1" stroke="#000" stroke-width="3" stroke-linecap="butt"/>
<line x1="1422.8" y1="751.7" x2="1419.5" y2="751.7" stroke="#000" stroke-width="3" stroke-linecap="butt"/>
<line x1="1422.8" y1="808.2" x2="1419.5" y2="808.2" stroke="#000" stroke-width="3" stroke-linecap="butt"/>
<line x1="1422.8" y1="864.8" x2="1419.5" y2="864.8" stroke="#000" stroke-width="3" stroke-linecap="butt"/>
<line x1="1422.8" y1="922.2" x2="1419.5" y2="922.2" stroke="#000" stroke-width="3" stroke-linecap="butt"/>
<line x1="1422.8" y1="978.0" x2="1419.5" y2="978.0" stroke="#000" stroke-width="3" stroke-linecap="butt"/>
<text x="206.5" y="65.6" font-size="29.2" font-weight="bold" font-style="normal" text-anchor="middle" fill="#1a1a1a" textLength="63.0" lengthAdjust="spacingAndGlyphs" >1000</text>
<text x="352.0" y="65.6" font-size="29.2" font-weight="bold" font-style="normal" text-anchor="middle" fill="#1a1a1a" textLength="63.0" lengthAdjust="spacingAndGlyphs" >2000</text>
<text x="499.2" y="65.6" font-size="29.2" font-weight="bold" font-style="normal" text-anchor="middle" fill="#1a1a1a" textLength="63.0" lengthAdjust="spacingAndGlyphs" >3000</text>
<text x="219.3" y="29.1" font-size="30" font-weight="bold" font-style="normal" text-anchor="start" fill="#1a1a1a" textLength="266.0" lengthAdjust="spacingAndGlyphs" >Wavenumber (cm</text>
<text x="488.8" y="14.6" font-size="18.0" font-weight="bold" font-style="normal" text-anchor="start" fill="#1a1a1a" textLength="18.8" lengthAdjust="spacingAndGlyphs" >-1</text>
<text x="513.7" y="29.1" font-size="30" font-weight="bold" font-style="normal" text-anchor="start" fill="#1a1a1a" textLength="9.3" lengthAdjust="spacingAndGlyphs" >)</text>
<text x="80.9" y="101.2" font-size="29.5" font-weight="bold" font-style="normal" text-anchor="end" fill="#1a1a1a" textLength="49.2" lengthAdjust="spacingAndGlyphs" >100</text>
<text x="80.9" y="200.5" font-size="29.5" font-weight="bold" font-style="normal" text-anchor="end" fill="#1a1a1a" textLength="32.8" lengthAdjust="spacingAndGlyphs" >80</text>
<text x="80.9" y="300.9" font-size="29.5" font-weight="bold" font-style="normal" text-anchor="end" fill="#1a1a1a" textLength="32.8" lengthAdjust="spacingAndGlyphs" >60</text>
<text x="80.9" y="400.9" font-size="29.5" font-weight="bold" font-style="normal" text-anchor="end" fill="#1a1a1a" textLength="32.8" lengthAdjust="spacingAndGlyphs" >40</text>
<text x="80.9" y="500.4" font-size="29.5" font-weight="bold" font-style="normal" text-anchor="end" fill="#1a1a1a" textLength="32.8" lengthAdjust="spacingAndGlyphs" >20</text>
<text x="80.9" y="557.9" font-size="29.5" font-weight="bold" font-style="normal" text-anchor="end" fill="#1a1a1a" textLength="16.4" lengthAdjust="spacingAndGlyphs" >8</text>
<text x="80.9" y="666.9" font-size="29.5" font-weight="bold" font-style="normal" text-anchor="end" fill="#1a1a1a" textLength="16.4" lengthAdjust="spacingAndGlyphs" >6</text>
<text x="80.9" y="770.2" font-size="29.5" font-weight="bold" font-style="normal" text-anchor="end" fill="#1a1a1a" textLength="16.4" lengthAdjust="spacingAndGlyphs" >4</text>
<text x="80.9" y="874.7" font-size="29.5" font-weight="bold" font-style="normal" text-anchor="end" fill="#1a1a1a" textLength="16.4" lengthAdjust="spacingAndGlyphs" >2</text>
<text x="80.9" y="978.8" font-size="29.5" font-weight="bold" font-style="normal" text-anchor="end" fill="#1a1a1a" textLength="16.4" lengthAdjust="spacingAndGlyphs" >0</text>
<text transform="translate(25.2,662.2) rotate(-90)" font-size="33" font-weight="bold" fill="#1a1a1a" textLength="214.6" lengthAdjust="spacingAndGlyphs">Delay time (ps)</text>
<text x="719.0" y="84.7" font-size="24" font-weight="bold" font-style="normal" text-anchor="start" fill="#1a1a1a" textLength="35.0" lengthAdjust="spacingAndGlyphs" >0.5</text>
<text x="719.0" y="154.5" font-size="24" font-weight="bold" font-style="normal" text-anchor="start" fill="#1a1a1a" textLength="35.0" lengthAdjust="spacingAndGlyphs" >0.4</text>
<text x="719.0" y="223.0" font-size="24" font-weight="bold" font-style="normal" text-anchor="start" fill="#1a1a1a" textLength="35.0" lengthAdjust="spacingAndGlyphs" >0.3</text>
<text x="719.0" y="291.9" font-size="24" font-weight="bold" font-style="normal" text-anchor="start" fill="#1a1a1a" textLength="35.0" lengthAdjust="spacingAndGlyphs" >0.2</text>
<text x="719.0" y="361.0" font-size="24" font-weight="bold" font-style="normal" text-anchor="start" fill="#1a1a1a" textLength="35.0" lengthAdjust="spacingAndGlyphs" >0.1</text>
<text x="719.0" y="429.2" font-size="24" font-weight="bold" font-style="normal" text-anchor="start" fill="#1a1a1a" textLength="35.0" lengthAdjust="spacingAndGlyphs" >0.0</text>
<text x="719.0" y="499.1" font-size="24" font-weight="bold" font-style="normal" text-anchor="start" fill="#1a1a1a" textLength="42.0" lengthAdjust="spacingAndGlyphs" >-0.1</text>
<text x="662.5" y="63.5" font-size="26" font-weight="bold" fill="#1a1a1a" textLength="69.5" lengthAdjust="spacingAndGlyphs">&#916;<tspan font-style="italic">R</tspan>/<tspan font-style="italic">R</tspan></text>
<text x="108.3" y="124.0" font-size="31.5" font-weight="bold" font-style="normal" text-anchor="start" fill="#1a1a1a" textLength="40.5" lengthAdjust="spacingAndGlyphs" >(a)</text>
<text x="502" y="124.2" font-size="30.5" font-weight="bold" fill="#1a1a1a" textLength="131" lengthAdjust="spacingAndGlyphs">Bi<tspan font-size="21" font-weight="normal" dy="6">2</tspan><tspan dy="-6">Te</tspan><tspan font-size="21" font-weight="normal" dy="6">2</tspan><tspan dy="-6">Se</tspan></text>
<text x="210" y="212.8" font-size="31" font-weight="bold" font-style="italic" fill="#1a1a1a">L<tspan font-size="21" dy="6.5" dx="0.5">0X</tspan></text>
<text x="866.4" y="534.7" font-size="29.2" font-weight="bold" font-style="normal" text-anchor="middle" fill="#1a1a1a" textLength="63.5" lengthAdjust="spacingAndGlyphs" >1000</text>
<text x="1044.8" y="534.7" font-size="29.2" font-weight="bold" font-style="normal" text-anchor="middle" fill="#1a1a1a" textLength="63.5" lengthAdjust="spacingAndGlyphs" >2000</text>
<text x="1221.0" y="534.7" font-size="29.2" font-weight="bold" font-style="normal" text-anchor="middle" fill="#1a1a1a" textLength="63.5" lengthAdjust="spacingAndGlyphs" >3000</text>
<text x="968.5" y="497.9" font-size="30" font-weight="bold" font-style="normal" text-anchor="start" fill="#1a1a1a" textLength="265.9" lengthAdjust="spacingAndGlyphs" >Wavenumber (cm</text>
<text x="1237.9" y="483.4" font-size="18.0" font-weight="bold" font-style="normal" text-anchor="start" fill="#1a1a1a" textLength="18.8" lengthAdjust="spacingAndGlyphs" >-1</text>
<text x="1262.7" y="497.9" font-size="30" font-weight="bold" font-style="normal" text-anchor="start" fill="#1a1a1a" textLength="9.3" lengthAdjust="spacingAndGlyphs" >)</text>
<text x="800.2" y="559.7" font-size="29.5" font-weight="bold" font-style="normal" text-anchor="end" fill="#1a1a1a" textLength="16.4" lengthAdjust="spacingAndGlyphs" >8</text>
<text x="800.2" y="666.9" font-size="29.5" font-weight="bold" font-style="normal" text-anchor="end" fill="#1a1a1a" textLength="16.4" lengthAdjust="spacingAndGlyphs" >6</text>
<text x="800.2" y="770.4" font-size="29.5" font-weight="bold" font-style="normal" text-anchor="end" fill="#1a1a1a" textLength="16.4" lengthAdjust="spacingAndGlyphs" >4</text>
<text x="800.2" y="874.4" font-size="29.5" font-weight="bold" font-style="normal" text-anchor="end" fill="#1a1a1a" textLength="16.4" lengthAdjust="spacingAndGlyphs" >2</text>
<text x="800.2" y="977.9" font-size="29.5" font-weight="bold" font-style="normal" text-anchor="end" fill="#1a1a1a" textLength="16.4" lengthAdjust="spacingAndGlyphs" >0</text>
<text transform="translate(756.8,879.5) rotate(-90)" font-size="33" font-weight="bold" fill="#1a1a1a" textLength="215.5" lengthAdjust="spacingAndGlyphs">Delay time (ps)</text>
<text x="1434.0" y="589.4" font-size="24" font-weight="bold" font-style="normal" text-anchor="start" fill="#1a1a1a" textLength="50.5" lengthAdjust="spacingAndGlyphs" >0.25</text>
<text x="1434.0" y="646.0" font-size="24" font-weight="bold" font-style="normal" text-anchor="start" fill="#1a1a1a" textLength="50.5" lengthAdjust="spacingAndGlyphs" >0.20</text>
<text x="1434.0" y="702.5" font-size="24" font-weight="bold" font-style="normal" text-anchor="start" fill="#1a1a1a" textLength="50.5" lengthAdjust="spacingAndGlyphs" >0.15</text>
<text x="1434.0" y="760.5" font-size="24" font-weight="bold" font-style="normal" text-anchor="start" fill="#1a1a1a" textLength="50.5" lengthAdjust="spacingAndGlyphs" >0.10</text>
<text x="1434.0" y="817.0" font-size="24" font-weight="bold" font-style="normal" text-anchor="start" fill="#1a1a1a" textLength="50.5" lengthAdjust="spacingAndGlyphs" >0.05</text>
<text x="1434.0" y="873.5" font-size="24" font-weight="bold" font-style="normal" text-anchor="start" fill="#1a1a1a" textLength="50.5" lengthAdjust="spacingAndGlyphs" >0.00</text>
<text x="1434.0" y="931.0" font-size="24" font-weight="bold" font-style="normal" text-anchor="start" fill="#1a1a1a" textLength="56.5" lengthAdjust="spacingAndGlyphs" >-0.05</text>
<text x="1434.0" y="987.0" font-size="24" font-weight="bold" font-style="normal" text-anchor="start" fill="#1a1a1a" textLength="56.5" lengthAdjust="spacingAndGlyphs" >-0.10</text>
<text x="1381.2" y="539.4" font-size="26" font-weight="bold" fill="#1a1a1a" textLength="70" lengthAdjust="spacingAndGlyphs">&#916;<tspan font-style="italic">R</tspan>/<tspan font-style="italic">R</tspan></text>
<text x="828.0" y="592.8" font-size="31.5" font-weight="bold" font-style="normal" text-anchor="start" fill="#1a1a1a" textLength="42.4" lengthAdjust="spacingAndGlyphs" >(b)</text>
<text x="1211" y="591.5" font-size="30.5" font-weight="bold" fill="#1a1a1a" textLength="139.5" lengthAdjust="spacingAndGlyphs">Sb<tspan font-size="21" font-weight="normal" dy="6">2</tspan><tspan dy="-6">TeSe</tspan><tspan font-size="21" font-weight="normal" dy="6">2</tspan></text>
<text x="935.5" y="632" font-size="29" font-weight="bold" font-style="italic" fill="#1a1a1a">L<tspan font-size="20" dy="6" dx="0.5">0X</tspan></text>
<text x="212.4" y="1312.0" font-size="29.2" font-weight="bold" font-style="normal" text-anchor="middle" fill="#1a1a1a" textLength="62.5" lengthAdjust="spacingAndGlyphs" >1000</text>
<text x="358.5" y="1312.0" font-size="29.2" font-weight="bold" font-style="normal" text-anchor="middle" fill="#1a1a1a" textLength="62.5" lengthAdjust="spacingAndGlyphs" >2000</text>
<text x="505.4" y="1312.0" font-size="29.2" font-weight="bold" font-style="normal" text-anchor="middle" fill="#1a1a1a" textLength="62.5" lengthAdjust="spacingAndGlyphs" >3000</text>
<text x="215.2" y="1350.5" font-size="30" font-weight="bold" font-style="normal" text-anchor="start" fill="#1a1a1a" textLength="266.4" lengthAdjust="spacingAndGlyphs" >Wavenumber (cm</text>
<text x="485.1" y="1336.0" font-size="18.0" font-weight="bold" font-style="normal" text-anchor="start" fill="#1a1a1a" textLength="18.9" lengthAdjust="spacingAndGlyphs" >-1</text>
<text x="510.0" y="1350.5" font-size="30" font-weight="bold" font-style="normal" text-anchor="start" fill="#1a1a1a" textLength="9.3" lengthAdjust="spacingAndGlyphs" >)</text>
<text x="75.8" y="1038.9" font-size="32.5" font-weight="bold" font-style="normal" text-anchor="end" fill="#1a1a1a" textLength="15.5" lengthAdjust="spacingAndGlyphs" >1</text>
<text x="796.3" y="1285.2" font-size="32" font-weight="bold" font-style="normal" text-anchor="end" fill="#1a1a1a" >0</text>
<text x="78.6" y="1285.2" font-size="32" font-weight="bold" font-style="normal" text-anchor="end" fill="#1a1a1a" >0</text>
<text x="793.2" y="1038.9" font-size="32.5" font-weight="bold" font-style="normal" text-anchor="end" fill="#1a1a1a" textLength="15.5" lengthAdjust="spacingAndGlyphs" >1</text>
<text transform="translate(43.2,1252.2) rotate(-90)" font-size="36" font-weight="bold" fill="#1a1a1a" textLength="191.2" lengthAdjust="spacingAndGlyphs">Reflectance</text>
<text transform="translate(759.7,1253.2) rotate(-90)" font-size="36" font-weight="bold" fill="#1a1a1a" textLength="191.2" lengthAdjust="spacingAndGlyphs">Reflectance</text>
<text x="872.3" y="1312.6" font-size="29.2" font-weight="bold" font-style="normal" text-anchor="middle" fill="#1a1a1a" textLength="64.0" lengthAdjust="spacingAndGlyphs" >1000</text>
<text x="1050.0" y="1312.6" font-size="29.2" font-weight="bold" font-style="normal" text-anchor="middle" fill="#1a1a1a" textLength="64.0" lengthAdjust="spacingAndGlyphs" >2000</text>
<text x="1225.5" y="1312.6" font-size="29.2" font-weight="bold" font-style="normal" text-anchor="middle" fill="#1a1a1a" textLength="64.0" lengthAdjust="spacingAndGlyphs" >3000</text>
<text x="940.7" y="1350.1" font-size="30" font-weight="bold" font-style="normal" text-anchor="start" fill="#1a1a1a" textLength="266.9" lengthAdjust="spacingAndGlyphs" >Wavenumber (cm</text>
<text x="1211.1" y="1335.6" font-size="18.0" font-weight="bold" font-style="normal" text-anchor="start" fill="#1a1a1a" textLength="18.9" lengthAdjust="spacingAndGlyphs" >-1</text>
<text x="1236.1" y="1350.1" font-size="30" font-weight="bold" font-style="normal" text-anchor="start" fill="#1a1a1a" textLength="9.3" lengthAdjust="spacingAndGlyphs" >)</text>
<text x="108.0" y="1063.8" font-size="31.5" font-weight="bold" font-style="normal" text-anchor="start" fill="#1a1a1a" textLength="39.5" lengthAdjust="spacingAndGlyphs" >(c)</text>
<text x="873.5" y="1064.4" font-size="31.5" font-weight="bold" font-style="normal" text-anchor="start" fill="#1a1a1a" textLength="42.0" lengthAdjust="spacingAndGlyphs" >(d)</text>
<defs><clipPath id="cc"><rect x="95" y="1033.5" width="553" height="242"/></clipPath><clipPath id="cd"><rect x="812" y="1033.5" width="554" height="242"/></clipPath></defs>
<path d="M226.5,1025 L262.5,1025 L272,1040 L236,1040 Z" fill="#fff"/>
<g clip-path="url(#cc)">
<defs><linearGradient id="fadeR" gradientUnits="userSpaceOnUse" x1="355" y1="1129" x2="428" y2="1032"><stop offset="0" stop-opacity="1" stop-color="#fff"/><stop offset="0.55" stop-opacity="0.9" stop-color="#fff"/><stop offset="1" stop-opacity="0" stop-color="#fff"/></linearGradient><mask id="mfade"><rect x="340" y="1020" width="100" height="115" fill="url(#fadeR)"/></mask><filter id="blur2" x="-20%" y="-20%" width="140%" height="140%"><feGaussianBlur stdDeviation="1.6"/></filter></defs>
<defs><linearGradient id="slabEdge" x1="0" y1="0" x2="0" y2="1"><stop offset="0" stop-color="#F3EDDC"/><stop offset="0.45" stop-color="#B9AE92"/><stop offset="1" stop-color="#4E4636"/></linearGradient><linearGradient id="slabSide" x1="0" y1="0" x2="1" y2="0"><stop offset="0" stop-color="#2B2620"/><stop offset="1" stop-color="#6A6252"/></linearGradient><linearGradient id="slabTop" x1="0" y1="0" x2="1" y2="1"><stop offset="0" stop-color="#EEE8D8"/><stop offset="1" stop-color="#E3DAC3"/></linearGradient></defs>
<path d="M277,1147 L391,1166.5 L391,1173.0 L277,1153.5 Z" fill="url(#slabEdge)"/>
<path d="M391,1166.5 L441,1135 L441,1141.5 L391,1173.0 Z" fill="url(#slabSide)"/>
<path d="M277,1147 L329,1117.8 L441,1135 L391,1166.5 Z" fill="url(#slabTop)" stroke="#D8CFB8" stroke-width="0.6"/>
<path d="M464.6,1175.5 L576.6,1192.5 L576.6,1199.0 L464.6,1182.0 Z" fill="url(#slabEdge)"/>
<path d="M576.6,1192.5 L626,1163 L626,1169.5 L576.6,1199.0 Z" fill="url(#slabSide)"/>
<path d="M464.6,1175.5 L515.2,1146.3 L626,1163 L576.6,1192.5 Z" fill="url(#slabTop)" stroke="#D8CFB8" stroke-width="0.6"/>
<path d="M271.9,1022 L354.8,1129.6" stroke="#F7C594" stroke-width="10" fill="none" filter="url(#blur2)"/>
<path d="M271.9,1022 L354.8,1129.6" stroke="#F6C8A2" stroke-width="7" fill="none" opacity="0.85"/>
<path d="M271.9,1022 L354.8,1129.6" stroke="#EE7F87" stroke-width="3" fill="none"/>
<g mask="url(#mfade)"><path d="M354.8,1129.6 L432.4,1025" stroke="#F7C594" stroke-width="10" fill="none" filter="url(#blur2)"/><path d="M354.8,1129.6 L432.4,1025" stroke="#F6C8A2" stroke-width="7" fill="none" opacity="0.85"/><path d="M354.8,1129.6 L432.4,1025" stroke="#EE7F87" stroke-width="3" fill="none"/></g>
<path d="M289,1045.5 C298,1042 308,1038.5 315.5,1036.8 C318.5,1036.5 319,1039 317,1041 C311,1046 304,1052 299,1058 Z" fill="#DC2424"/>
<path d="M276.4,1044.9 L299.6,1073.2" stroke="#111" stroke-width="1.5"/><path d="M292.5,1070.5 L300.5,1074.5 L298.8,1065.8 Z" fill="#111"/>
<circle cx="329.5" cy="1127" r="3.2" fill="none" stroke="#5E5A5C" stroke-width="2.4"/>
<circle cx="340.4" cy="1132.9" r="3.2" fill="none" stroke="#5E5A5C" stroke-width="2.4"/>
<circle cx="326.2" cy="1142" r="3.2" fill="none" stroke="#5E5A5C" stroke-width="2.4"/>
<circle cx="359.6" cy="1144.6" r="3.2" fill="none" stroke="#5E5A5C" stroke-width="2.4"/>
<circle cx="376.3" cy="1130.4" r="3.2" fill="none" stroke="#5E5A5C" stroke-width="2.4"/>
<circle cx="384.7" cy="1140.4" r="3.2" fill="none" stroke="#5E5A5C" stroke-width="2.4"/>
<circle cx="403.6" cy="1134.5" r="3.2" fill="none" stroke="#5E5A5C" stroke-width="2.4"/>
<path d="M321,1133 Q315,1135 311,1140" fill="none" stroke="#5E5A5C" stroke-width="1.3"/>
<path d="M308.5,1141.5 L313.5,1137 L313.5,1141.8 Z" fill="#5E5A5C"/>
<path d="M347,1139.5 Q355,1136 362,1135.5" fill="none" stroke="#5E5A5C" stroke-width="1.3"/>
<path d="M365.5,1135.2 L360,1132.5 L360.5,1137.5 Z" fill="#5E5A5C"/>
<path d="M390,1131 Q393,1138 400,1142" fill="none" stroke="#5E5A5C" stroke-width="1.3"/>
<path d="M402.5,1144 L397,1142.5 L400.5,1139 Z" fill="#5E5A5C"/>
<circle cx="517" cy="1155.9" r="3.15" fill="none" stroke="#5E5A5C" stroke-width="2.7"/>
<circle cx="527.2" cy="1161.9" r="3.15" fill="none" stroke="#5E5A5C" stroke-width="2.7"/>
<circle cx="514" cy="1170.9" r="3.15" fill="none" stroke="#5E5A5C" stroke-width="2.7"/>
<circle cx="547.1" cy="1173.9" r="3.15" fill="none" stroke="#5E5A5C" stroke-width="2.7"/>
<circle cx="564" cy="1159.5" r="3.15" fill="none" stroke="#5E5A5C" stroke-width="2.7"/>
<circle cx="572.4" cy="1169.1" r="3.15" fill="none" stroke="#5E5A5C" stroke-width="2.7"/>
<circle cx="590.4" cy="1163.1" r="3.15" fill="none" stroke="#5E5A5C" stroke-width="2.7"/>
<circle cx="488.1" cy="1167.9" r="3.1" fill="none" stroke="#E01B1B" stroke-width="3.2"/>
<circle cx="539.9" cy="1156.5" r="3.1" fill="none" stroke="#E01B1B" stroke-width="3.2"/>
<circle cx="530.2" cy="1173.9" r="3.1" fill="none" stroke="#E01B1B" stroke-width="3.2"/>
<circle cx="560.3" cy="1176.4" r="3.1" fill="none" stroke="#E01B1B" stroke-width="3.2"/>
<circle cx="606.1" cy="1162.5" r="3.1" fill="none" stroke="#E01B1B" stroke-width="3.2"/>
<path d="M509.8,1161.9 Q502,1164 498.5,1168" fill="none" stroke="#5E5A5C" stroke-width="1.6"/>
<path d="M495.5,1170.5 L496.5,1164.8 L500.8,1167.8 Z" fill="#5E5A5C"/>
<path d="M533.9,1167.9 Q542,1164.5 549.5,1164.8" fill="none" stroke="#5E5A5C" stroke-width="1.6"/>
<path d="M553.5,1164.8 L548,1162 L548.5,1167.5 Z" fill="#5E5A5C"/>
<path d="M577.8,1160.1 Q580,1168 588,1171.5" fill="none" stroke="#5E5A5C" stroke-width="1.6"/>
<path d="M590.8,1174.5 L585.5,1172.5 L589.5,1168.5 Z" fill="#5E5A5C"/>
<path d="M557.3,1154.1 Q549,1155.5 546,1160" fill="none" stroke="#E01B1B" stroke-width="1.8"/>
<path d="M543.8,1162.5 L544.5,1156.5 L549,1159.5 Z" fill="#E01B1B"/>
<path d="M562,1181.8 Q570,1182 577,1178.8" fill="none" stroke="#E01B1B" stroke-width="1.8"/>
<path d="M581.5,1177.8 L575.5,1175.5 L576.5,1181 Z" fill="#E01B1B"/>
<path d="M430,1154 L463,1156.5 L462.5,1152 L476.5,1159.3 L461.5,1164.5 L462,1161.5 L431,1158.5 Z" fill="#111"/>
<circle cx="422.3" cy="1064" r="3.4" fill="none" stroke="#707070" stroke-width="2.4"/>
<circle cx="422.3" cy="1088.8" r="3.3" fill="none" stroke="#DC2424" stroke-width="2.4"/>
<text x="434.5" y="1070.7" font-size="17" font-weight="bold" font-style="normal" text-anchor="start" fill="#141414" textLength="102.4" lengthAdjust="spacingAndGlyphs" >Free carrier</text>
<text x="434.0" y="1096.8" font-size="17" font-weight="bold" font-style="normal" text-anchor="start" fill="#141414" textLength="168.5" lengthAdjust="spacingAndGlyphs" >Excited free carrier</text>
</g>
<text transform="translate(241.5,1033) rotate(53)" font-size="19.5" font-weight="bold" fill="#111" textLength="101" lengthAdjust="spacingAndGlyphs">Pump beam</text>
<g clip-path="url(#cc)">
<path d="M110.9,1104.8 L110.9,1074.5 M104.9,1086.5 L110.9,1074.5 L116.9,1086.5" fill="none" stroke="#E9558D" stroke-width="1.6" stroke-linejoin="miter"/>
<path d="M132.6,1129.2 L132.6,1089.5 M126.6,1101.5 L132.6,1089.5 L138.6,1101.5" fill="none" stroke="#E9558D" stroke-width="1.6" stroke-linejoin="miter"/>
<path d="M148.6,1176.1 L148.6,1106.0 M142.6,1118.0 L148.6,1106.0 L154.6,1118.0" fill="none" stroke="#E9558D" stroke-width="1.6" stroke-linejoin="miter"/>
<path d="M164.7,1226.4 L164.7,1130.5 M158.7,1142.5 L164.7,1130.5 L170.7,1142.5" fill="none" stroke="#E9558D" stroke-width="1.6" stroke-linejoin="miter"/>
<path d="M182.9,1234.1 L182.9,1178.0 M176.9,1190.0 L182.9,1178.0 L188.9,1190.0" fill="none" stroke="#E9558D" stroke-width="1.6" stroke-linejoin="miter"/>
<path d="M194.1,1229.9 L194.1,1215.2 M188.1,1227.2 L194.1,1215.2 L200.1,1227.2" fill="none" stroke="#E9558D" stroke-width="1.6" stroke-linejoin="miter"/>
<path d="M224.8,1224.0 L224.8,1240.2 M219.4,1231.7 L224.8,1240.2 L230.2,1231.7" fill="none" stroke="#3DB489" stroke-width="1.8" stroke-linejoin="miter"/>
<path d="M250.2,1217.5 L250.2,1230.1 M244.8,1221.6 L250.2,1230.1 L255.6,1221.6" fill="none" stroke="#3DB489" stroke-width="1.8" stroke-linejoin="miter"/>
<path d="M275.0,1213.5 L275.0,1224.1 M269.6,1215.6 L275.0,1224.1 L280.4,1215.6" fill="none" stroke="#3DB489" stroke-width="1.8" stroke-linejoin="miter"/>
<path d="M303.0,1210.5 L303.0,1221.4 M297.6,1212.9 L303.0,1221.4 L308.4,1212.9" fill="none" stroke="#3DB489" stroke-width="1.8" stroke-linejoin="miter"/>
<path d="M93.0,1085.5 C94.2,1086.6 97.5,1089.5 100.4,1092.2 C103.3,1095.0 107.2,1098.8 110.2,1102.0 C113.2,1105.2 115.8,1108.0 118.6,1111.7 C121.4,1115.4 124.4,1119.9 127.0,1124.3 C129.6,1128.7 131.9,1133.9 134.0,1138.3 C136.1,1142.7 137.8,1146.2 139.6,1150.9 C141.4,1155.6 143.5,1161.4 145.1,1166.3 C146.7,1171.2 147.9,1175.6 149.3,1180.3 C150.7,1185.0 152.1,1189.6 153.5,1194.3 C154.9,1199.0 156.1,1203.6 157.7,1208.3 C159.3,1213.0 161.2,1218.4 163.3,1222.2 C165.4,1226.0 167.7,1229.2 170.3,1231.3 C172.9,1233.4 175.9,1234.4 178.7,1234.8 C181.5,1235.2 183.8,1234.3 187.1,1233.4 C190.4,1232.5 193.4,1231.2 198.3,1229.2 C203.2,1227.2 209.3,1223.7 216.8,1221.4 C224.3,1219.1 234.6,1217.1 243.5,1215.4 C252.4,1213.7 261.4,1212.5 270.3,1211.4 C279.2,1210.3 288.1,1209.4 297.0,1208.7 C305.9,1208.0 314.9,1207.9 323.8,1207.4 C332.7,1207.0 339.5,1206.3 350.5,1206.0 C361.5,1205.7 373.4,1205.8 390.0,1205.5 C406.6,1205.2 423.3,1204.9 450.0,1204.5 C476.7,1204.1 516.7,1203.4 550.0,1203.0 C583.3,1202.6 633.3,1202.2 650.0,1202.0" fill="none" stroke="#7F7F7F" stroke-width="3.6" stroke-linejoin="round" stroke-linecap="round"/>
<path d="M93.0,1068.0 C95.9,1069.2 103.4,1072.1 110.2,1075.4 C117.0,1078.7 127.0,1083.1 134.0,1088.0 C141.0,1092.9 146.8,1098.5 152.1,1104.8 C157.4,1111.1 162.1,1119.2 166.1,1125.7 C170.1,1132.2 172.9,1137.4 175.9,1143.9 C178.9,1150.4 181.7,1157.6 184.3,1164.9 C186.9,1172.2 189.2,1180.8 191.3,1188.0 C193.4,1195.2 194.7,1201.2 196.7,1208.0 C198.7,1214.8 201.2,1223.8 203.4,1228.8 C205.6,1233.8 207.8,1236.0 210.0,1238.2 C212.2,1240.4 214.3,1241.5 216.8,1242.2 C219.3,1242.9 222.1,1242.7 224.8,1242.4 C227.5,1242.1 228.6,1241.9 232.8,1240.2 C237.0,1238.5 243.9,1234.5 250.2,1232.1 C256.4,1229.6 262.5,1227.5 270.3,1225.5 C278.1,1223.5 288.1,1221.7 297.0,1220.1 C305.9,1218.5 314.9,1217.2 323.8,1216.1 C332.7,1215.0 339.5,1214.3 350.5,1213.4 C361.5,1212.5 373.4,1211.4 390.0,1210.7 C406.6,1210.0 423.3,1209.6 450.0,1209.0 C476.7,1208.4 516.7,1207.8 550.0,1207.0 C583.3,1206.2 633.3,1204.9 650.0,1204.5" fill="none" stroke="#DC2424" stroke-width="4.6" stroke-linejoin="round" stroke-linecap="round"/>
</g>
<text x="109" y="1192.8" font-size="22.5" font-weight="bold" font-style="italic" fill="#3E3E3E">R<tspan font-size="15.5" dy="6">p</tspan></text>
<text x="197.5" y="1162" font-size="22.5" font-weight="bold" font-style="italic" fill="#DC2424">R<tspan font-size="15.5" dy="6">p</tspan><tspan dy="-8" dx="1.5" font-size="22">*</tspan></text>
<g clip-path="url(#cd)">
<line x1="1075" y1="1043.2" x2="1127.3" y2="1187.6" stroke="#B9B7B7" stroke-width="3.2"/>
<line x1="1117.4" y1="1043.2" x2="1063.7" y2="1187.6" stroke="#B9B7B7" stroke-width="3.2"/>
<line x1="1243" y1="1043.2" x2="1297.3" y2="1189" stroke="#B9B7B7" stroke-width="3.2"/>
<line x1="1284.7" y1="1043.2" x2="1231" y2="1189" stroke="#B9B7B7" stroke-width="3.2"/>
<defs><linearGradient id="redBody" x1="0" y1="0" x2="1" y2="0"><stop offset="0" stop-color="#C41A1A"/><stop offset="0.18" stop-color="#C01A1A"/><stop offset="0.45" stop-color="#2A0606"/><stop offset="0.7" stop-color="#7A1010"/><stop offset="1" stop-color="#C82020"/></linearGradient><linearGradient id="blueBody" x1="0" y1="0" x2="1" y2="0"><stop offset="0" stop-color="#2F5E8A"/><stop offset="0.3" stop-color="#1A3550"/><stop offset="0.5" stop-color="#08131E"/><stop offset="0.75" stop-color="#2F5A85"/><stop offset="1" stop-color="#4A85BE"/></linearGradient><radialGradient id="holeR" cx="0.5" cy="0.5" r="0.5"><stop offset="0" stop-color="#3A0606"/><stop offset="1" stop-color="#8E1010"/></radialGradient><radialGradient id="holeB" cx="0.5" cy="0.5" r="0.5"><stop offset="0" stop-color="#0A1A2A"/><stop offset="1" stop-color="#234C72"/></radialGradient></defs>
<path d="M1069.5,1170 L1122.5,1170 L1126.5,1188 Q1096,1208 1065.5,1188 Z" fill="url(#blueBody)"/>
<path d="M1071.8,1160.5 L1120.4,1160.5 L1121,1174.5 Q1096,1187 1071.2,1174.5 Z" fill="url(#redBody)"/>
<ellipse cx="1096.2" cy="1160.5" rx="24.3" ry="8.8" fill="#DA2222"/>
<ellipse cx="1097.5" cy="1160" rx="13.5" ry="5.2" fill="url(#holeR)"/>
<path d="M1245,1047.5 Q1265,1044 1285,1047.5 L1285,1051.5 Q1265,1055 1245,1051.5 Z" fill="#3F6E9C"/>
<path d="M1245,1051.5 Q1265,1055 1285,1051.5 L1283,1064 Q1265,1071 1247,1064 Z" fill="url(#redBody)"/>
<path d="M1234,1174 L1295,1174 L1293,1190 Q1264,1208 1236,1190 Z" fill="url(#blueBody)"/>
<ellipse cx="1264.5" cy="1173" rx="30.5" ry="10.5" fill="#4A7FB1"/>
<ellipse cx="1264.5" cy="1172" rx="17" ry="6.6" fill="url(#holeB)"/>
<path d="M1131.9,1193 L1131.9,1168" stroke="#111" stroke-width="3"/><path d="M1126.5,1169 L1131.9,1159 L1137.3,1169 Z" fill="#111"/>
<path d="M1287.4,1158 L1287.4,1081" stroke="#111" stroke-width="3"/><path d="M1282,1082 L1287.4,1072 L1292.8,1082 Z" fill="#111"/>
<text x="1038" y="1150" font-size="19" font-weight="bold" font-style="italic" fill="#111" textLength="21.5" lengthAdjust="spacingAndGlyphs">hv</text>
<path d="M1033.4,1157.3 C1036.0,1155.8 1037.5,1157.8 1039.0,1163.3 C1040.5,1166.8 1043.0,1157.8 1045.0,1157.3 C1047.0,1156.8 1047.0,1165.8 1048.5,1165.8 C1050.0,1165.8 1051.5,1159.8 1053.5,1159.8" fill="none" stroke="#111" stroke-width="1.6" stroke-linecap="round"/>
<path d="M1053.0,1159.3 L1053.5,1167.1 L1062.5,1165.7 Z" fill="#111"/>
<text x="1212.5" y="1099.5" font-size="19" font-weight="bold" font-style="italic" fill="#111" textLength="21.5" lengthAdjust="spacingAndGlyphs">hv</text>
<path d="M1211.9,1106.4 C1214.5,1104.9 1216.0,1106.9 1217.5,1112.4 C1219.0,1115.9 1221.5,1106.9 1223.5,1106.4 C1225.5,1105.9 1225.5,1114.9 1227.0,1114.9 C1228.5,1114.9 1230.0,1108.9 1232.0,1108.9" fill="none" stroke="#111" stroke-width="1.6" stroke-linecap="round"/>
<path d="M1231.5,1108.4 L1232.0,1116.2 L1241.0,1114.8 Z" fill="#111"/>
<text transform="translate(1158,1113.4) rotate(90)" font-size="20" font-weight="bold" fill="#111" textLength="82" lengthAdjust="spacingAndGlyphs" dominant-baseline="auto">Intraband</text>
<text transform="translate(1142.8,1112) rotate(90)" font-size="20" font-weight="bold" fill="#111" textLength="82" lengthAdjust="spacingAndGlyphs">transition</text>
<text transform="translate(1312,1078.3) rotate(90)" font-size="20" font-weight="bold" fill="#111" textLength="83" lengthAdjust="spacingAndGlyphs">Interband</text>
<text transform="translate(1296.3,1077) rotate(90)" font-size="20" font-weight="bold" fill="#111" textLength="81" lengthAdjust="spacingAndGlyphs">transition</text>
<path d="M811.0,1035.7 C814.3,1036.4 824.2,1037.9 830.6,1040.0 C837.0,1042.1 843.3,1045.1 849.3,1048.5 C855.3,1051.9 861.0,1055.3 866.4,1060.4 C871.8,1065.5 877.0,1072.7 881.8,1079.2 C886.6,1085.7 891.1,1092.2 895.4,1099.6 C899.6,1107.0 903.0,1115.5 907.3,1123.5 C911.6,1131.5 916.5,1139.2 921.0,1147.4 C925.5,1155.7 929.8,1164.5 934.6,1173.0 C939.4,1181.5 944.6,1192.1 950.0,1198.6 C955.4,1205.1 961.3,1208.9 967.0,1212.2 C972.7,1215.5 977.0,1216.9 984.1,1218.2 C991.2,1219.5 997.1,1219.9 1009.7,1219.9 C1022.4,1219.9 1034.7,1219.0 1060.0,1218.2 C1085.3,1217.4 1129.8,1215.4 1161.5,1215.3 C1193.2,1215.2 1215.9,1216.5 1250.0,1217.5 C1284.1,1218.5 1346.7,1220.4 1366.0,1221.0" fill="none" stroke="#7F7F7F" stroke-width="3.8" stroke-linejoin="round" stroke-linecap="round"/>
<path d="M811.0,1047.6 C814.3,1049.4 824.5,1053.7 830.6,1058.7 C836.7,1063.7 842.5,1070.7 847.6,1077.5 C852.7,1084.3 857.0,1091.6 861.3,1099.6 C865.6,1107.5 869.2,1116.7 873.2,1125.2 C877.2,1133.7 881.2,1143.1 885.2,1150.8 C889.2,1158.5 892.9,1165.0 897.1,1171.3 C901.4,1177.5 905.6,1183.5 910.7,1188.3 C915.8,1193.1 921.2,1197.4 927.8,1200.3 C934.3,1203.2 943.5,1204.1 950.0,1205.4 C956.5,1206.7 948.7,1207.6 967.0,1208.0 C985.3,1208.4 1027.6,1207.5 1060.0,1208.0 C1092.4,1208.5 1129.8,1209.8 1161.5,1211.0 C1193.2,1212.2 1215.9,1213.3 1250.0,1215.0 C1284.1,1216.7 1346.7,1220.0 1366.0,1221.0" fill="none" stroke="#DC2424" stroke-width="4.6" stroke-linejoin="round" stroke-linecap="round"/>
<path d="M831.4,1042.0 L831.4,1059.6 M825.9,1047.6 L831.4,1059.6 L836.9,1047.6" fill="none" stroke="#3DB489" stroke-width="1.6" stroke-linejoin="miter"/>
<path d="M850.2,1052.0 L850.2,1084.3 M844.7,1072.3 L850.2,1084.3 L855.7,1072.3" fill="none" stroke="#3DB489" stroke-width="1.6" stroke-linejoin="miter"/>
<path d="M866.4,1065.0 L866.4,1114.1 M860.9,1102.1 L866.4,1114.1 L871.9,1102.1" fill="none" stroke="#3DB489" stroke-width="1.6" stroke-linejoin="miter"/>
<path d="M883.8,1083.0 L883.8,1149.1 M878.3,1137.1 L883.8,1149.1 L889.3,1137.1" fill="none" stroke="#3DB489" stroke-width="1.6" stroke-linejoin="miter"/>
<path d="M902.7,1119.0 L902.7,1177.2 M897.2,1165.2 L902.7,1177.2 L908.2,1165.2" fill="none" stroke="#3DB489" stroke-width="1.6" stroke-linejoin="miter"/>
<path d="M921.8,1152.0 L921.8,1193.4 M916.3,1181.4 L921.8,1193.4 L927.3,1181.4" fill="none" stroke="#3DB489" stroke-width="1.6" stroke-linejoin="miter"/>
<path d="M996.9,1217.5 L996.9,1209.0 M992.4,1216.0 L996.9,1209.0 L1001.4,1216.0" fill="none" stroke="#E9558D" stroke-width="1.6" stroke-linejoin="miter"/>
<path d="M1021.3,1217.5 L1021.3,1209.0 M1016.8,1216.0 L1021.3,1209.0 L1025.8,1216.0" fill="none" stroke="#E9558D" stroke-width="1.6" stroke-linejoin="miter"/>
<path d="M1048.0,1217.5 L1048.0,1209.0 M1043.5,1216.0 L1048.0,1209.0 L1052.5,1216.0" fill="none" stroke="#E9558D" stroke-width="1.6" stroke-linejoin="miter"/>
<path d="M1073.2,1217.5 L1073.2,1209.0 M1068.7,1216.0 L1073.2,1209.0 L1077.7,1216.0" fill="none" stroke="#E9558D" stroke-width="1.6" stroke-linejoin="miter"/>
</g>
<text x="929" y="1138.9" font-size="22.5" font-weight="bold" font-style="italic" fill="#3E3E3E">R<tspan font-size="15.5" dy="6">p</tspan></text>
<text x="843.5" y="1179.8" font-size="22.5" font-weight="bold" font-style="italic" fill="#DC2424">R<tspan font-size="15.5" dy="6">p</tspan><tspan dy="-8" dx="1.5" font-size="22">*</tspan></text>
</svg></body></html>
